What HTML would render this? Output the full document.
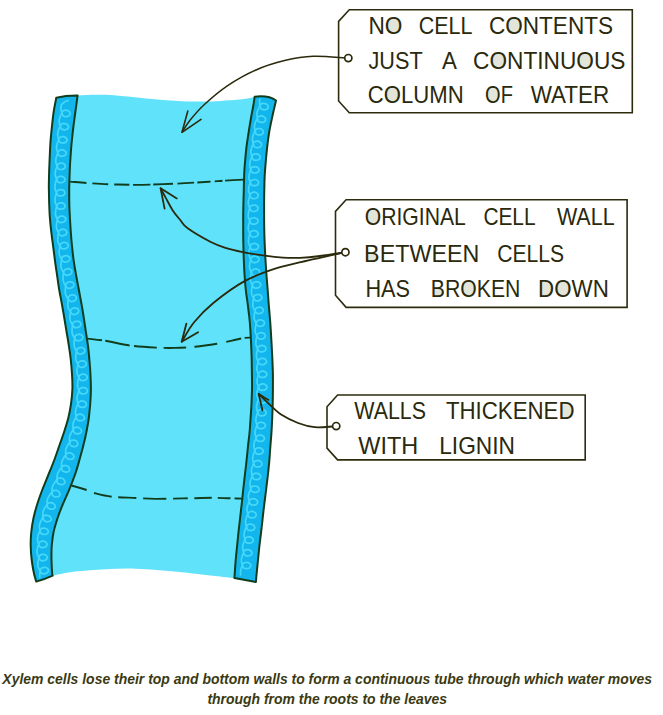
<!DOCTYPE html>
<html><head><meta charset="utf-8"><title>Xylem vessel</title>
<style>
html,body{margin:0;padding:0;background:#fff;}
body{width:663px;height:715px;overflow:hidden;position:relative;font-family:"Liberation Sans",sans-serif;}
svg{position:absolute;left:0;top:0;}
svg text{font-family:"Liberation Sans",sans-serif;font-size:23.6px;fill:#2a290c;}
.cap{position:absolute;left:-20px;top:668.5px;width:694.4px;text-align:center;font-style:italic;font-weight:bold;font-size:13.96px;line-height:20px;color:#3a3a12;white-space:nowrap;}
</style></head><body>
<svg width="663" height="715" viewBox="0 0 663 715">
<path d="M77.6 95.6 C80.5 95.1 89.6 94.8 95.0 94.7 C100.4 94.7 104.5 94.6 110.0 94.9 C115.5 95.2 122.0 95.9 128.0 96.5 C134.0 97.1 140.2 98.0 146.0 98.6 C151.8 99.2 157.6 99.6 163.0 100.0 C168.4 100.4 173.3 100.7 178.6 100.9 C183.9 101.2 189.6 101.4 195.0 101.5 C200.4 101.6 205.2 101.7 211.0 101.5 C216.8 101.3 223.9 100.8 230.0 100.3 C236.1 99.8 243.3 99.0 247.4 98.4 C251.5 97.8 253.5 97.0 254.7 96.7 C254.5 97.9 254.2 100.5 253.6 104.0 C253.0 107.5 251.8 113.3 251.0 118.0 C250.2 122.7 249.4 127.3 248.7 132.0 C248.0 136.7 247.2 141.3 246.6 146.0 C246.0 150.7 245.6 155.3 245.2 160.0 C244.8 164.7 244.4 169.2 244.2 174.0 C244.0 178.8 243.9 184.0 243.8 189.0 C243.7 194.0 243.5 199.2 243.4 204.0 C243.3 208.8 243.2 213.3 243.2 218.0 C243.2 222.7 243.2 227.3 243.2 232.0 C243.2 236.7 243.3 241.3 243.4 246.0 C243.5 250.7 243.6 255.3 243.8 260.0 C244.0 264.7 244.2 269.2 244.5 274.0 C244.8 278.8 245.2 284.0 245.7 289.0 C246.2 294.0 247.1 299.2 247.7 304.0 C248.3 308.8 248.9 313.3 249.4 318.0 C249.9 322.7 250.2 327.3 250.5 332.0 C250.8 336.7 251.0 341.3 251.2 346.0 C251.4 350.7 251.6 355.3 251.7 360.0 C251.8 364.7 251.8 369.2 251.9 374.0 C252.0 378.8 252.1 384.0 252.0 389.0 C251.9 394.0 251.7 399.2 251.5 404.0 C251.3 408.8 250.9 413.3 250.6 418.0 C250.3 422.7 250.0 427.3 249.6 432.0 C249.2 436.7 248.5 441.3 248.0 446.0 C247.5 450.7 247.1 455.3 246.6 460.0 C246.1 464.7 245.6 469.2 245.0 474.0 C244.4 478.8 243.9 484.0 243.3 489.0 C242.8 494.0 242.2 499.2 241.7 504.0 C241.2 508.8 240.6 513.3 240.1 518.0 C239.6 522.7 239.0 527.3 238.5 532.0 C238.0 536.7 237.6 541.3 237.1 546.0 C236.6 550.7 236.1 555.3 235.7 560.0 C235.3 564.7 234.9 571.0 234.7 574.0 C234.5 577.0 234.4 577.4 234.4 578.1 C231.2 577.8 221.4 576.7 215.0 576.0 C208.6 575.3 204.0 574.6 195.8 573.7 C187.6 572.8 175.8 571.5 165.7 570.7 C155.6 569.9 145.6 569.0 135.5 568.7 C125.4 568.5 115.3 568.7 105.3 569.2 C95.2 569.7 84.0 570.5 75.2 571.6 C66.4 572.7 56.5 574.9 52.7 575.6 C52.6 575.3 52.4 576.6 52.2 574.0 C52.0 571.4 51.6 564.7 51.5 560.0 C51.4 555.3 51.4 550.7 51.7 546.0 C52.1 541.3 52.6 536.7 53.6 532.0 C54.6 527.3 56.1 522.7 57.6 518.0 C59.1 513.3 60.9 508.8 62.9 504.0 C64.9 499.2 67.5 494.0 69.5 489.0 C71.5 484.0 73.5 478.8 75.2 474.0 C76.9 469.2 78.1 464.7 79.4 460.0 C80.7 455.3 82.0 450.7 83.2 446.0 C84.4 441.3 85.5 436.7 86.4 432.0 C87.3 427.3 88.2 422.7 88.8 418.0 C89.4 413.3 89.8 408.8 90.2 404.0 C90.6 399.2 90.9 394.0 90.9 389.0 C90.9 384.0 90.7 378.8 90.4 374.0 C90.2 369.2 89.8 364.7 89.4 360.0 C89.0 355.3 88.6 350.7 88.0 346.0 C87.4 341.3 86.6 336.7 85.9 332.0 C85.2 327.3 84.5 322.7 83.8 318.0 C83.1 313.3 82.4 309.0 81.5 304.0 C80.6 299.0 79.4 293.0 78.5 288.0 C77.6 283.0 76.7 278.7 75.9 274.0 C75.1 269.3 74.2 264.7 73.6 260.0 C72.9 255.3 72.5 250.7 72.0 246.0 C71.5 241.3 71.1 236.7 70.8 232.0 C70.5 227.3 70.2 222.7 69.9 218.0 C69.7 213.3 69.4 208.7 69.3 204.0 C69.2 199.3 69.2 193.8 69.2 190.0 C69.2 186.2 69.3 184.8 69.4 181.0 C69.5 177.2 69.7 171.7 69.9 167.0 C70.1 162.3 70.5 157.7 70.8 153.0 C71.1 148.3 71.5 143.7 72.0 139.0 C72.5 134.3 73.0 129.7 73.6 125.0 C74.2 120.3 74.8 115.9 75.5 111.0 C76.2 106.1 77.2 98.2 77.6 95.6Z" fill="#60e2fb"/>
<g fill="none" stroke="#123d1c" stroke-width="1.9" stroke-linecap="butt">
<path d="M70.2 181.6 C73.0 181.8 80.7 182.6 87.0 183.0 C93.3 183.4 100.8 183.9 108.0 184.2 C115.2 184.5 123.0 184.7 130.0 184.8 C137.0 184.9 142.8 184.8 150.0 184.6 C157.2 184.4 165.5 184.1 173.0 183.8 C180.5 183.5 188.7 183.0 195.0 182.6 C201.3 182.2 206.0 181.9 211.0 181.6 C216.0 181.3 219.6 180.9 225.0 180.6 C230.4 180.3 240.5 179.8 243.6 179.6" stroke-dasharray="16.3 6.1 15.7 6 15.1 3.6 17.5 3 19.6 4.5 16.6 3.1 13.5 4 8.1 2.4 30"/><path d="M87.6 338.6 C90.5 339.0 97.9 339.6 105.0 340.7 C112.1 341.8 121.5 344.4 130.0 345.5 C138.5 346.6 148.5 347.2 156.0 347.6 C163.5 348.0 168.5 348.0 175.0 347.9 C181.5 347.8 188.0 347.4 195.0 346.7 C202.0 346.0 210.8 344.7 217.0 343.7 C223.2 342.7 227.5 341.6 232.0 340.6 C236.5 339.7 240.9 338.5 244.0 338.0 C247.1 337.5 249.5 337.7 250.6 337.6" stroke-dasharray="14.6 3.2 24.8 4.5 22.7 6.7 22.9 8.2 22.9 9.2 15.2 3.6 20"/><path d="M71.4 485.5 C74.0 486.2 82.9 488.8 86.7 490.0 C90.5 491.2 90.0 491.9 94.2 493.0 C98.4 494.1 104.7 495.9 111.7 496.7 C118.7 497.5 129.2 497.6 136.4 498.0 C143.6 498.4 148.9 498.8 155.0 498.9 C161.1 499.0 166.5 498.7 173.0 498.6 C179.5 498.5 187.5 498.3 194.0 498.2 C200.5 498.1 206.0 497.8 212.0 497.8 C218.0 497.8 224.9 498.2 230.0 498.3 C235.1 498.4 240.7 498.6 242.8 498.6" stroke-dasharray="15.9 8 18 6.6 18.1 6.6 23.6 6.6 14.5 6.7 17.5 6 12.7 3.9 20"/>
</g>
<g fill="#12b5ec" stroke="#123d1c" stroke-width="2" stroke-linejoin="round">
<path d="M56.3 97.7 C55.9 99.9 54.5 106.5 53.8 111.0 C53.1 115.5 52.6 120.3 52.1 125.0 C51.6 129.7 51.1 134.3 50.7 139.0 C50.3 143.7 50.1 148.3 49.9 153.0 C49.7 157.7 49.5 162.3 49.3 167.0 C49.1 171.7 49.0 177.2 48.9 181.0 C48.8 184.8 48.8 186.2 48.9 190.0 C49.0 193.8 49.0 199.3 49.2 204.0 C49.4 208.7 49.5 213.3 49.9 218.0 C50.2 222.7 50.8 227.3 51.3 232.0 C51.8 236.7 52.5 241.3 53.1 246.0 C53.7 250.7 54.3 255.3 54.9 260.0 C55.5 264.7 56.2 269.3 56.9 274.0 C57.6 278.7 58.1 283.0 58.9 288.0 C59.7 293.0 61.0 299.0 61.9 304.0 C62.8 309.0 63.5 313.3 64.3 318.0 C65.1 322.7 65.8 327.3 66.6 332.0 C67.4 336.7 68.2 341.3 68.9 346.0 C69.6 350.7 70.3 355.3 70.8 360.0 C71.3 364.7 71.7 369.2 72.0 374.0 C72.3 378.8 72.6 384.0 72.4 389.0 C72.2 394.0 71.7 399.2 71.0 404.0 C70.3 408.8 69.5 413.3 68.3 418.0 C67.1 422.7 65.6 427.3 64.1 432.0 C62.6 436.7 60.8 441.3 59.2 446.0 C57.6 450.7 56.0 455.3 54.3 460.0 C52.5 464.7 50.7 469.2 48.7 474.0 C46.8 478.8 44.5 484.0 42.6 489.0 C40.7 494.0 38.8 499.2 37.3 504.0 C35.8 508.8 34.5 513.3 33.5 518.0 C32.5 522.7 31.8 527.3 31.3 532.0 C30.8 536.7 30.6 541.3 30.7 546.0 C30.8 550.7 31.1 555.3 31.7 560.0 C32.3 564.7 33.3 570.4 34.1 574.0 C34.9 577.6 35.9 580.3 36.3 581.6 Q45.0 579.1 52.7 575.6 C52.6 575.3 52.4 576.6 52.2 574.0 C52.0 571.4 51.6 564.7 51.5 560.0 C51.4 555.3 51.4 550.7 51.7 546.0 C52.1 541.3 52.6 536.7 53.6 532.0 C54.6 527.3 56.1 522.7 57.6 518.0 C59.1 513.3 60.9 508.8 62.9 504.0 C64.9 499.2 67.5 494.0 69.5 489.0 C71.5 484.0 73.5 478.8 75.2 474.0 C76.9 469.2 78.1 464.7 79.4 460.0 C80.7 455.3 82.0 450.7 83.2 446.0 C84.4 441.3 85.5 436.7 86.4 432.0 C87.3 427.3 88.2 422.7 88.8 418.0 C89.4 413.3 89.8 408.8 90.2 404.0 C90.6 399.2 90.9 394.0 90.9 389.0 C90.9 384.0 90.7 378.8 90.4 374.0 C90.2 369.2 89.8 364.7 89.4 360.0 C89.0 355.3 88.6 350.7 88.0 346.0 C87.4 341.3 86.6 336.7 85.9 332.0 C85.2 327.3 84.5 322.7 83.8 318.0 C83.1 313.3 82.4 309.0 81.5 304.0 C80.6 299.0 79.4 293.0 78.5 288.0 C77.6 283.0 76.7 278.7 75.9 274.0 C75.1 269.3 74.2 264.7 73.6 260.0 C72.9 255.3 72.5 250.7 72.0 246.0 C71.5 241.3 71.1 236.7 70.8 232.0 C70.5 227.3 70.2 222.7 69.9 218.0 C69.7 213.3 69.4 208.7 69.3 204.0 C69.2 199.3 69.2 193.8 69.2 190.0 C69.2 186.2 69.3 184.8 69.4 181.0 C69.5 177.2 69.7 171.7 69.9 167.0 C70.1 162.3 70.5 157.7 70.8 153.0 C71.1 148.3 71.5 143.7 72.0 139.0 C72.5 134.3 73.0 129.7 73.6 125.0 C74.2 120.3 74.8 115.9 75.5 111.0 C76.2 106.1 77.2 98.2 77.6 95.6 Q65.9 95.5 56.3 97.7Z"/><path d="M276.0 100.5 C275.9 101.1 275.9 101.1 275.2 104.0 C274.5 106.9 273.0 113.3 272.0 118.0 C271.0 122.7 270.0 127.3 269.2 132.0 C268.4 136.7 267.9 141.3 267.3 146.0 C266.8 150.7 266.3 155.3 265.9 160.0 C265.5 164.7 265.1 169.2 264.8 174.0 C264.5 178.8 264.4 184.0 264.3 189.0 C264.2 194.0 264.1 199.2 264.1 204.0 C264.1 208.8 264.1 213.3 264.1 218.0 C264.1 222.7 264.2 227.3 264.3 232.0 C264.4 236.7 264.6 241.3 264.8 246.0 C265.0 250.7 265.2 255.3 265.5 260.0 C265.8 264.7 266.0 269.2 266.4 274.0 C266.8 278.8 267.2 284.0 267.6 289.0 C268.0 294.0 268.3 299.2 268.7 304.0 C269.1 308.8 269.5 313.3 269.9 318.0 C270.3 322.7 270.6 327.3 270.9 332.0 C271.2 336.7 271.4 341.3 271.7 346.0 C271.9 350.7 272.2 355.3 272.4 360.0 C272.6 364.7 272.8 369.2 272.9 374.0 C273.0 378.8 272.9 384.0 272.9 389.0 C272.9 394.0 272.8 399.2 272.7 404.0 C272.6 408.8 272.4 413.3 272.2 418.0 C272.0 422.7 271.8 427.3 271.5 432.0 C271.2 436.7 270.8 441.3 270.4 446.0 C270.0 450.7 269.8 455.3 269.4 460.0 C269.0 464.7 268.5 469.2 268.0 474.0 C267.5 478.8 266.8 484.0 266.2 489.0 C265.6 494.0 264.9 499.2 264.3 504.0 C263.7 508.8 263.2 513.3 262.7 518.0 C262.2 522.7 261.7 527.3 261.1 532.0 C260.6 536.7 259.9 541.3 259.4 546.0 C258.9 550.7 258.5 555.3 258.0 560.0 C257.5 564.7 257.0 570.3 256.6 574.0 C256.2 577.7 256.0 580.7 255.9 582.0 Q245.2 580.0 234.4 578.1 C234.4 577.4 234.5 577.0 234.7 574.0 C234.9 571.0 235.3 564.7 235.7 560.0 C236.1 555.3 236.6 550.7 237.1 546.0 C237.6 541.3 238.0 536.7 238.5 532.0 C239.0 527.3 239.6 522.7 240.1 518.0 C240.6 513.3 241.2 508.8 241.7 504.0 C242.2 499.2 242.8 494.0 243.3 489.0 C243.9 484.0 244.4 478.8 245.0 474.0 C245.6 469.2 246.1 464.7 246.6 460.0 C247.1 455.3 247.5 450.7 248.0 446.0 C248.5 441.3 249.2 436.7 249.6 432.0 C250.0 427.3 250.3 422.7 250.6 418.0 C250.9 413.3 251.3 408.8 251.5 404.0 C251.7 399.2 251.9 394.0 252.0 389.0 C252.1 384.0 252.0 378.8 251.9 374.0 C251.8 369.2 251.8 364.7 251.7 360.0 C251.6 355.3 251.4 350.7 251.2 346.0 C251.0 341.3 250.8 336.7 250.5 332.0 C250.2 327.3 249.9 322.7 249.4 318.0 C248.9 313.3 248.3 308.8 247.7 304.0 C247.1 299.2 246.2 294.0 245.7 289.0 C245.2 284.0 244.8 278.8 244.5 274.0 C244.2 269.2 244.0 264.7 243.8 260.0 C243.6 255.3 243.5 250.7 243.4 246.0 C243.3 241.3 243.2 236.7 243.2 232.0 C243.2 227.3 243.2 222.7 243.2 218.0 C243.2 213.3 243.3 208.8 243.4 204.0 C243.5 199.2 243.7 194.0 243.8 189.0 C243.9 184.0 244.0 178.8 244.2 174.0 C244.4 169.2 244.8 164.7 245.2 160.0 C245.6 155.3 246.0 150.7 246.6 146.0 C247.2 141.3 248.0 136.7 248.7 132.0 C249.4 127.3 250.2 122.7 251.0 118.0 C251.8 113.3 253.0 107.5 253.6 104.0 C254.2 100.5 254.5 97.9 254.7 96.7 C262 95.9 270.5 96.4 276.0 100.5Z"/>
</g>
<g fill="none" stroke="#45d8f9" stroke-width="1.7" stroke-linecap="round" stroke-linejoin="round">
<path d="M68.2 100.4 L67.8 100.6 L67.3 100.8 L66.7 100.9 L66.1 101.1 L65.5 101.5 L64.9 101.9 L64.3 102.3 L63.7 102.7 L63.0 103.4 L62.4 103.8 L61.9 104.4 L61.5 104.9 L61.2 105.6 L61.1 106.1 L60.9 106.8 L60.9 107.4 L60.9 108.1 L61.0 108.9 L61.1 109.9 L61.4 111.0 L61.6 112.3 L62.0 113.4 L62.3 114.4 L62.7 115.2 L63.1 115.8 L63.5 116.1 L64.0 116.4 L64.5 116.5 L65.0 116.6 L65.5 116.6 L66.0 116.7 L66.6 116.5 L67.1 116.6 L67.6 116.4 L68.1 116.2 L68.6 116.0 L68.9 115.8 L69.3 115.6 L69.6 115.2 L69.8 114.7 L70.0 114.5 L70.1 114.0 L70.1 113.7 L70.0 113.2 L69.9 112.7 L69.7 112.4 L69.5 111.9 L69.2 111.6 L68.8 111.3 L68.4 111.0 L67.9 110.7 L67.4 110.6 L66.9 110.3 L66.4 110.2 L65.9 110.1 L65.3 110.3 L64.8 110.2 L64.2 110.4 L63.7 110.6 L63.3 110.8 L63.0 111.0 L62.7 111.2 L62.5 111.4 L62.3 111.9 L62.0 112.4 L61.8 112.8 L61.4 113.6 L61.0 114.5 L60.6 115.5 L60.2 116.4 L59.9 117.4 L59.6 118.4 L59.5 118.9 L59.3 119.6 L59.2 120.1 L59.1 120.9 L59.2 121.4 L59.3 122.2 L59.4 123.2 L59.6 124.5 L60.0 125.5 L60.3 126.8 L60.7 127.6 L61.1 128.4 L61.5 129.0 L61.9 129.3 L62.4 129.6 L62.9 129.6 L63.4 129.7 L63.9 129.8 L64.4 129.8 L65.0 129.9 L65.5 129.7 L66.1 129.5 L66.6 129.3 L67.0 129.1 L67.3 128.9 L67.7 128.7 L68.0 128.2 L68.2 128.0 L68.4 127.5 L68.5 127.0 L68.4 126.8 L68.4 126.3 L68.2 125.7 L68.0 125.5 L67.8 125.2 L67.5 124.6 L67.1 124.4 L66.7 124.0 L66.2 124.0 L65.7 123.7 L65.1 123.6 L64.6 123.6 L64.1 123.5 L63.6 123.4 L63.0 123.6 L62.5 123.6 L62.0 123.7 L61.6 123.9 L61.3 124.2 L61.0 124.4 L60.8 124.9 L60.6 125.1 L60.4 125.6 L60.1 126.0 L59.8 126.8 L59.4 127.7 L59.0 128.7 L58.6 129.7 L58.3 130.6 L58.1 131.6 L57.9 132.4 L57.8 132.9 L57.7 133.6 L57.6 134.1 L57.7 134.9 L57.7 135.6 L57.9 136.4 L58.2 137.7 L58.5 138.8 L58.9 140.1 L59.3 141.1 L59.7 141.9 L60.2 142.2 L60.6 142.7 L61.1 142.8 L61.6 142.8 L62.1 142.8 L62.6 142.9 L63.1 142.9 L63.7 143.0 L64.2 142.8 L64.8 142.8 L65.2 142.6 L65.7 142.4 L66.0 141.9 L66.3 141.7 L66.6 141.2 L66.8 141.0 L67.0 140.5 L67.1 140.3 L67.1 139.8 L67.0 139.3 L66.8 139.0 L66.6 138.5 L66.3 138.2 L66.0 138.0 L65.7 137.4 L65.2 137.4 L64.7 137.1 L64.2 136.8 L63.7 136.7 L63.2 136.7 L62.7 136.6 L62.1 136.6 L61.6 136.8 L61.0 137.0 L60.6 136.9 L60.1 137.4 L59.8 137.6 L59.5 137.8 L59.3 138.1 L59.2 138.3 L59.0 138.8 L58.7 139.5 L58.4 140.3 L58.1 141.0 L57.7 142.0 L57.4 143.0 L57.1 144.0 L56.9 145.0 L56.7 145.7 L56.6 146.2 L56.5 147.0 L56.5 147.5 L56.6 148.2 L56.7 149.0 L56.9 150.0 L57.2 151.0 L57.6 152.3 L58.0 153.3 L58.4 154.4 L58.8 155.1 L59.3 155.7 L59.8 156.0 L60.3 156.0 L60.7 156.3 L61.3 156.3 L61.8 156.3 L62.3 156.1 L62.8 156.1 L63.4 155.9 L63.9 155.9 L64.4 155.7 L64.8 155.5 L65.1 155.3 L65.4 154.8 L65.7 154.6 L65.9 154.1 L66.1 153.6 L66.1 153.3 L66.1 152.8 L66.0 152.6 L65.9 152.1 L65.7 151.6 L65.4 151.3 L65.1 151.0 L64.7 150.8 L64.2 150.5 L63.7 150.2 L63.2 149.9 L62.7 149.9 L62.2 149.8 L61.6 149.8 L61.1 149.8 L60.5 150.0 L60.0 150.2 L59.5 150.4 L59.1 150.7 L58.8 150.9 L58.6 151.1 L58.4 151.4 L58.2 151.8 L58.0 152.1 L57.8 152.8 L57.5 153.6 L57.2 154.3 L56.8 155.3 L56.5 156.5 L56.2 157.5 L56.0 158.3 L55.9 159.0 L55.8 159.7 L55.7 160.2 L55.7 160.8 L55.8 161.5 L55.9 162.3 L56.1 163.3 L56.5 164.3 L56.8 165.6 L57.3 166.6 L57.7 167.6 L58.2 168.4 L58.6 168.9 L59.1 169.2 L59.6 169.5 L60.1 169.5 L60.6 169.5 L61.1 169.5 L61.6 169.5 L62.2 169.3 L62.7 169.3 L63.2 169.1 L63.7 168.9 L64.1 168.6 L64.4 168.4 L64.8 167.9 L65.0 167.7 L65.2 167.2 L65.4 167.0 L65.4 166.5 L65.4 166.0 L65.3 165.7 L65.1 165.2 L64.9 165.0 L64.6 164.4 L64.3 164.2 L63.9 163.9 L63.5 163.6 L63.0 163.4 L62.4 163.3 L61.9 163.1 L61.4 163.0 L60.9 163.0 L60.3 163.2 L59.8 163.2 L59.3 163.4 L58.8 163.7 L58.4 163.9 L58.1 164.1 L57.8 164.4 L57.6 164.6 L57.4 165.1 L57.3 165.6 L57.0 166.1 L56.8 166.8 L56.5 167.8 L56.1 168.8 L55.8 169.8 L55.6 170.8 L55.4 171.6 L55.3 172.3 L55.2 173.1 L55.2 173.6 L55.2 174.3 L55.2 174.8 L55.4 175.6 L55.6 176.6 L56.0 177.6 L56.4 178.9 L56.8 179.9 L57.3 180.9 L57.8 181.7 L58.2 182.2 L58.7 182.4 L59.2 182.7 L59.7 182.7 L60.2 182.7 L60.7 182.7 L61.2 182.8 L61.8 182.5 L62.3 182.5 L62.8 182.3 L63.3 182.1 L63.7 181.8 L64.0 181.6 L64.3 181.3 L64.6 180.8 L64.8 180.3 L64.9 180.1 L65.0 179.6 L65.0 179.4 L64.8 178.9 L64.7 178.4 L64.4 178.1 L64.1 177.6 L63.8 177.3 L63.4 177.1 L63.0 176.8 L62.5 176.6 L61.9 176.5 L61.4 176.3 L60.9 176.3 L60.4 176.2 L59.8 176.5 L59.3 176.5 L58.8 176.7 L58.3 176.9 L57.9 177.2 L57.6 177.4 L57.3 177.7 L57.1 177.9 L57.0 178.4 L56.8 178.9 L56.6 179.4 L56.3 180.1 L56.0 181.1 L55.7 182.1 L55.5 183.1 L55.2 184.1 L55.1 185.2 L55.0 185.7 L54.9 186.4 L54.9 186.9 L54.9 187.7 L55.0 188.2 L55.1 189.0 L55.4 190.0 L55.8 191.2 L56.2 192.2 L56.7 193.5 L57.2 194.2 L57.7 195.0 L58.2 195.5 L58.7 195.7 L59.2 196.0 L59.7 195.9 L60.2 195.9 L60.7 195.9 L61.2 195.9 L61.7 195.9 L62.3 195.7 L62.8 195.4 L63.3 195.2 L63.7 194.9 L64.0 194.7 L64.3 194.4 L64.5 193.9 L64.7 193.7 L64.8 193.2 L64.9 192.7 L64.8 192.4 L64.7 191.9 L64.5 191.4 L64.3 191.2 L64.0 190.9 L63.6 190.4 L63.2 190.2 L62.8 189.9 L62.2 189.9 L61.7 189.7 L61.2 189.7 L60.6 189.7 L60.1 189.7 L59.6 189.7 L59.1 190.0 L58.5 190.0 L58.1 190.2 L57.7 190.5 L57.4 190.7 L57.2 191.0 L57.0 191.5 L56.8 191.7 L56.7 192.2 L56.5 192.7 L56.2 193.5 L56.0 194.5 L55.7 195.5 L55.5 196.5 L55.3 197.5 L55.1 198.5 L55.0 199.3 L55.0 199.8 L55.0 200.5 L55.0 201.0 L55.1 201.8 L55.3 202.6 L55.6 203.3 L56.0 204.6 L56.5 205.5 L57.0 206.8 L57.5 207.8 L58.0 208.5 L58.5 208.7 L59.0 209.2 L59.5 209.2 L60.0 209.2 L60.5 209.2 L61.0 209.1 L61.6 209.1 L62.1 209.1 L62.6 208.8 L63.1 208.8 L63.6 208.5 L64.0 208.3 L64.3 207.8 L64.6 207.5 L64.8 207.0 L65.0 206.7 L65.1 206.2 L65.1 206.0 L65.1 205.5 L64.9 205.0 L64.7 204.8 L64.5 204.3 L64.2 204.1 L63.8 203.8 L63.4 203.3 L62.9 203.3 L62.4 203.1 L61.9 202.9 L61.3 202.9 L60.8 202.9 L60.3 202.9 L59.8 202.9 L59.2 203.2 L58.7 203.5 L58.3 203.5 L57.9 204.0 L57.6 204.3 L57.4 204.5 L57.2 204.8 L57.0 205.0 L56.9 205.5 L56.7 206.3 L56.5 207.1 L56.3 207.8 L56.0 208.8 L55.8 209.9 L55.7 210.9 L55.6 211.9 L55.5 212.6 L55.4 213.2 L55.5 213.9 L55.5 214.4 L55.6 215.2 L55.9 215.9 L56.2 216.9 L56.6 217.9 L57.2 219.1 L57.7 220.1 L58.3 221.1 L58.8 221.8 L59.3 222.2 L59.8 222.5 L60.3 222.4 L60.8 222.6 L61.3 222.6 L61.8 222.6 L62.3 222.3 L62.9 222.2 L63.4 221.9 L63.9 221.9 L64.3 221.6 L64.7 221.3 L65.0 221.1 L65.3 220.6 L65.5 220.3 L65.7 219.8 L65.8 219.3 L65.8 219.0 L65.7 218.5 L65.6 218.3 L65.3 217.8 L65.1 217.4 L64.8 217.1 L64.4 216.9 L64.0 216.7 L63.5 216.5 L63.0 216.2 L62.4 216.0 L61.9 216.1 L61.4 216.1 L60.9 216.1 L60.3 216.2 L59.8 216.4 L59.3 216.7 L58.9 217.0 L58.5 217.3 L58.2 217.5 L58.0 217.8 L57.8 218.1 L57.7 218.6 L57.5 218.8 L57.4 219.6 L57.2 220.4 L57.0 221.2 L56.8 222.2 L56.6 223.5 L56.5 224.5 L56.4 225.3 L56.4 226.0 L56.4 226.8 L56.4 227.3 L56.5 227.8 L56.6 228.5 L56.9 229.3 L57.2 230.2 L57.7 231.2 L58.3 232.4 L58.8 233.4 L59.4 234.3 L60.0 235.0 L60.5 235.5 L61.0 235.7 L61.5 235.9 L62.0 235.8 L62.5 235.8 L63.0 235.7 L63.5 235.7 L64.0 235.4 L64.6 235.3 L65.1 235.0 L65.5 234.7 L65.9 234.4 L66.2 234.1 L66.4 233.6 L66.7 233.3 L66.8 232.8 L66.9 232.6 L66.9 232.1 L66.8 231.6 L66.7 231.4 L66.4 230.9 L66.1 230.7 L65.8 230.2 L65.5 230.0 L65.0 229.8 L64.5 229.6 L64.0 229.4 L63.5 229.4 L62.9 229.2 L62.4 229.3 L61.9 229.3 L61.4 229.6 L60.8 229.6 L60.3 229.9 L59.9 230.2 L59.5 230.5 L59.3 230.8 L59.1 231.1 L58.9 231.3 L58.8 231.9 L58.7 232.4 L58.5 232.9 L58.4 233.7 L58.2 234.7 L58.0 235.7 L57.9 236.7 L57.8 237.8 L57.7 238.5 L57.7 239.3 L57.7 240.1 L57.7 240.6 L57.8 241.3 L58.0 241.8 L58.2 242.5 L58.6 243.5 L59.1 244.4 L59.7 245.6 L60.3 246.6 L60.9 247.5 L61.4 248.2 L61.9 248.6 L62.5 248.8 L63.0 249.0 L63.5 249.0 L64.0 248.9 L64.5 248.9 L65.0 248.8 L65.5 248.5 L66.0 248.4 L66.5 248.1 L67.0 247.8 L67.3 247.5 L67.6 247.2 L67.9 247.0 L68.1 246.4 L68.2 245.9 L68.3 245.7 L68.3 245.2 L68.2 244.9 L68.0 244.4 L67.8 244.0 L67.5 243.7 L67.2 243.3 L66.8 243.1 L66.4 242.9 L65.9 242.7 L65.4 242.5 L64.8 242.5 L64.3 242.3 L63.8 242.4 L63.2 242.5 L62.7 242.8 L62.2 242.8 L61.7 243.1 L61.3 243.4 L60.9 243.7 L60.6 244.0 L60.4 244.3 L60.3 244.6 L60.2 245.1 L60.1 245.6 L59.9 246.1 L59.8 246.9 L59.6 247.9 L59.5 248.9 L59.3 250.0 L59.2 251.0 L59.2 252.0 L59.2 252.5 L59.2 253.3 L59.2 253.8 L59.3 254.5 L59.5 255.0 L59.8 255.7 L60.2 256.7 L60.7 257.9 L61.3 258.8 L61.9 260.0 L62.5 260.7 L63.1 261.4 L63.6 261.8 L64.1 262.0 L64.6 262.2 L65.1 262.1 L65.6 262.0 L66.1 262.0 L66.7 261.9 L67.2 261.8 L67.7 261.5 L68.2 261.2 L68.6 260.9 L68.9 260.6 L69.2 260.3 L69.5 260.0 L69.7 259.5 L69.8 259.2 L69.9 258.7 L69.9 258.2 L69.8 258.0 L69.6 257.5 L69.3 257.0 L69.1 256.8 L68.7 256.6 L68.4 256.2 L67.9 256.0 L67.4 255.8 L66.9 255.8 L66.4 255.7 L65.8 255.7 L65.3 255.8 L64.8 255.9 L64.3 255.9 L63.8 256.2 L63.3 256.3 L62.8 256.6 L62.5 256.9 L62.2 257.2 L62.0 257.5 L61.9 258.0 L61.8 258.3 L61.7 258.8 L61.5 259.3 L61.4 260.1 L61.3 261.1 L61.1 262.2 L61.0 263.2 L61.0 264.2 L61.0 265.3 L61.0 266.0 L61.0 266.5 L61.1 267.3 L61.2 267.8 L61.4 268.5 L61.7 269.2 L62.1 269.9 L62.6 271.1 L63.2 272.0 L63.9 273.2 L64.5 274.1 L65.1 274.8 L65.6 274.9 L66.2 275.3 L66.7 275.3 L67.2 275.2 L67.7 275.1 L68.2 275.0 L68.7 274.9 L69.2 274.9 L69.7 274.5 L70.2 274.4 L70.6 274.1 L71.0 273.8 L71.2 273.3 L71.5 273.0 L71.7 272.4 L71.8 272.2 L71.9 271.7 L71.9 271.4 L71.7 270.9 L71.5 270.4 L71.3 270.2 L71.0 269.8 L70.7 269.6 L70.3 269.4 L69.8 268.9 L69.4 269.0 L68.8 268.8 L68.2 268.7 L67.7 268.8 L67.2 268.9 L66.7 268.9 L66.2 269.0 L65.7 269.4 L65.2 269.7 L64.7 269.8 L64.4 270.3 L64.2 270.6 L64.0 270.9 L63.8 271.2 L63.7 271.4 L63.6 272.0 L63.6 272.7 L63.4 273.5 L63.3 274.3 L63.2 275.3 L63.1 276.3 L63.0 277.4 L63.0 278.4 L63.1 279.1 L63.1 279.6 L63.2 280.4 L63.3 280.9 L63.5 281.6 L63.8 282.3 L64.2 283.3 L64.7 284.2 L65.4 285.4 L66.0 286.3 L66.7 287.2 L67.3 287.8 L67.8 288.3 L68.4 288.4 L68.8 288.3 L69.4 288.5 L69.9 288.4 L70.4 288.3 L70.8 288.0 L71.4 287.9 L71.9 287.5 L72.4 287.5 L72.8 287.1 L73.1 286.8 L73.4 286.5 L73.6 286.0 L73.8 285.7 L73.9 285.2 L74.0 284.7 L74.0 284.4 L73.8 283.9 L73.7 283.7 L73.4 283.3 L73.1 282.8 L72.8 282.6 L72.4 282.4 L72.0 282.2 L71.5 282.1 L70.9 281.9 L70.3 281.8 L69.8 281.8 L69.3 281.9 L68.8 282.0 L68.2 282.1 L67.8 282.4 L67.3 282.8 L66.9 283.1 L66.5 283.4 L66.3 283.7 L66.1 284.0 L65.9 284.3 L65.9 284.8 L65.8 285.1 L65.7 285.8 L65.6 286.6 L65.4 287.4 L65.3 288.4 L65.3 289.7 L65.3 290.8 L65.3 291.5 L65.3 292.3 L65.4 293.1 L65.5 293.6 L65.6 294.0 L65.8 294.8 L66.1 295.5 L66.6 296.4 L67.1 297.3 L67.8 298.5 L68.5 299.3 L69.1 300.2 L69.7 300.9 L70.3 301.3 L70.8 301.4 L71.4 301.6 L71.8 301.5 L72.3 301.4 L72.8 301.3 L73.3 301.2 L73.8 300.9 L74.4 300.8 L74.8 300.4 L75.2 300.1 L75.6 299.8 L75.9 299.5 L76.1 298.9 L76.2 298.6 L76.3 298.1 L76.4 297.8 L76.4 297.3 L76.2 296.8 L76.1 296.6 L75.8 296.2 L75.5 296.0 L75.1 295.5 L74.7 295.3 L74.3 295.2 L73.8 295.0 L73.2 294.9 L72.7 295.0 L72.1 294.8 L71.6 294.9 L71.1 295.0 L70.6 295.4 L70.1 295.5 L69.6 295.8 L69.2 296.2 L68.9 296.5 L68.6 296.8 L68.5 297.1 L68.3 297.3 L68.3 297.9 L68.2 298.4 L68.1 298.9 L68.0 299.7 L67.9 300.7 L67.8 301.7 L67.8 302.8 L67.7 303.8 L67.7 304.5 L67.8 305.3 L67.8 306.0 L67.9 306.5 L68.0 307.2 L68.2 307.7 L68.5 308.4 L69.0 309.4 L69.5 310.3 L70.1 311.4 L70.8 312.3 L71.4 313.2 L72.0 313.9 L72.5 314.3 L73.1 314.5 L73.6 314.7 L74.1 314.6 L74.6 314.5 L75.1 314.4 L75.6 314.3 L76.1 314.0 L76.6 313.9 L77.1 313.6 L77.5 313.3 L77.9 312.9 L78.1 312.6 L78.4 312.4 L78.6 311.8 L78.7 311.3 L78.7 311.0 L78.7 310.5 L78.6 310.3 L78.4 309.8 L78.1 309.3 L77.9 309.1 L77.5 308.7 L77.1 308.5 L76.7 308.3 L76.2 308.1 L75.6 308.0 L75.1 308.1 L74.5 307.9 L74.0 308.0 L73.5 308.1 L73.0 308.4 L72.5 308.5 L72.0 308.8 L71.6 309.2 L71.3 309.5 L71.0 309.8 L70.8 310.1 L70.7 310.3 L70.6 310.8 L70.5 311.4 L70.4 311.9 L70.3 312.7 L70.2 313.7 L70.1 314.7 L70.0 315.8 L69.9 316.8 L70.0 317.8 L69.9 318.3 L70.0 319.0 L70.0 319.5 L70.2 320.3 L70.4 320.7 L70.7 321.5 L71.1 322.4 L71.6 323.6 L72.2 324.5 L72.9 325.6 L73.5 326.3 L74.1 327.0 L74.6 327.4 L75.1 327.6 L75.7 327.7 L76.2 327.7 L76.7 327.6 L77.2 327.5 L77.7 327.4 L78.2 327.4 L78.7 327.0 L79.2 326.7 L79.6 326.4 L80.0 326.1 L80.2 325.8 L80.5 325.5 L80.7 324.9 L80.8 324.7 L80.9 324.2 L80.8 323.7 L80.7 323.4 L80.5 322.9 L80.3 322.5 L80.0 322.3 L79.7 322.1 L79.3 321.6 L78.8 321.4 L78.3 321.3 L77.8 321.3 L77.2 321.2 L76.7 321.3 L76.2 321.3 L75.7 321.4 L75.2 321.5 L74.7 321.8 L74.2 321.9 L73.7 322.2 L73.4 322.5 L73.1 322.8 L72.9 323.1 L72.8 323.6 L72.7 323.9 L72.6 324.4 L72.5 324.9 L72.4 325.7 L72.3 326.8 L72.2 327.8 L72.1 328.8 L72.0 329.8 L72.0 330.8 L72.0 331.6 L72.0 332.1 L72.1 332.9 L72.2 333.4 L72.5 334.1 L72.7 334.8 L73.1 335.5 L73.7 336.7 L74.3 337.6 L75.0 338.7 L75.6 339.7 L76.2 340.3 L76.7 340.5 L77.3 340.9 L77.8 340.8 L78.3 340.7 L78.8 340.7 L79.3 340.6 L79.8 340.5 L80.3 340.4 L80.8 340.1 L81.3 340.0 L81.7 339.7 L82.1 339.4 L82.3 338.8 L82.6 338.5 L82.7 338.0 L82.9 337.7 L82.9 337.2 L82.9 336.9 L82.8 336.5 L82.6 336.0 L82.4 335.8 L82.1 335.3 L81.7 335.1 L81.3 334.9 L80.9 334.5 L80.4 334.6 L79.9 334.4 L79.3 334.2 L78.8 334.3 L78.3 334.4 L77.7 334.5 L77.2 334.6 L76.7 334.9 L76.3 335.2 L75.8 335.3 L75.5 335.9 L75.2 336.2 L75.0 336.5 L74.9 336.7 L74.8 337.0 L74.7 337.5 L74.6 338.3 L74.5 339.1 L74.4 339.9 L74.3 340.9 L74.2 341.9 L74.1 342.9 L74.1 343.9 L74.1 344.7 L74.1 345.1 L74.2 345.9 L74.3 346.4 L74.5 347.1 L74.8 347.8 L75.2 348.7 L75.7 349.7 L76.2 350.8 L76.8 351.8 L77.5 352.7 L78.0 353.4 L78.5 353.8 L79.0 354.0 L79.5 354.0 L80.1 354.2 L80.6 354.1 L81.1 354.0 L81.6 353.7 L82.1 353.7 L82.6 353.4 L83.1 353.3 L83.5 353.0 L83.9 352.7 L84.2 352.4 L84.4 351.9 L84.7 351.6 L84.8 351.1 L84.8 350.5 L84.9 350.3 L84.8 349.8 L84.6 349.5 L84.4 349.1 L84.0 348.6 L83.7 348.4 L83.4 348.2 L82.9 348.0 L82.4 347.8 L81.9 347.6 L81.3 347.4 L80.8 347.5 L80.3 347.6 L79.8 347.6 L79.2 347.7 L78.7 348.0 L78.2 348.3 L77.8 348.6 L77.5 348.9 L77.2 349.2 L77.0 349.5 L76.8 349.8 L76.8 350.3 L76.6 350.5 L76.5 351.3 L76.4 352.1 L76.2 352.9 L76.0 353.9 L75.9 355.1 L75.8 356.1 L75.8 356.9 L75.7 357.6 L75.7 358.4 L75.8 358.9 L75.8 359.4 L76.0 360.1 L76.3 360.8 L76.6 361.8 L77.1 362.7 L77.6 363.9 L78.2 364.9 L78.8 365.8 L79.3 366.5 L79.8 367.0 L80.3 367.2 L80.8 367.4 L81.4 367.4 L81.9 367.3 L82.4 367.3 L82.9 367.2 L83.4 366.9 L83.9 366.9 L84.4 366.6 L84.9 366.3 L85.2 366.0 L85.5 365.8 L85.8 365.2 L86.0 365.0 L86.2 364.4 L86.3 364.2 L86.3 363.7 L86.2 363.2 L86.0 362.9 L85.8 362.4 L85.5 362.2 L85.2 361.7 L84.8 361.5 L84.4 361.3 L83.9 361.1 L83.4 360.9 L82.9 360.9 L82.3 360.7 L81.8 360.8 L81.3 360.8 L80.8 361.1 L80.2 361.2 L79.7 361.5 L79.3 361.8 L78.9 362.1 L78.6 362.3 L78.4 362.6 L78.3 362.9 L78.2 363.4 L78.1 363.9 L77.9 364.4 L77.7 365.2 L77.5 366.2 L77.4 367.2 L77.2 368.2 L77.0 369.2 L76.9 369.9 L76.9 370.7 L76.9 371.4 L76.9 371.9 L76.9 372.6 L77.1 373.1 L77.3 373.9 L77.6 374.8 L78.0 375.8 L78.5 377.0 L79.1 378.0 L79.6 379.0 L80.1 379.7 L80.6 380.2 L81.1 380.4 L81.6 380.6 L82.1 380.6 L82.6 380.6 L83.1 380.6 L83.6 380.5 L84.2 380.3 L84.7 380.3 L85.2 380.0 L85.7 379.7 L86.1 379.4 L86.4 379.2 L86.7 378.9 L86.9 378.4 L87.0 377.9 L87.2 377.6 L87.2 377.1 L87.1 376.8 L87.0 376.3 L86.8 375.9 L86.5 375.6 L86.2 375.1 L85.8 374.9 L85.4 374.7 L84.9 374.4 L84.4 374.2 L83.9 374.3 L83.3 374.0 L82.8 374.1 L82.3 374.1 L81.8 374.4 L81.2 374.4 L80.7 374.7 L80.3 374.9 L79.9 375.2 L79.6 375.5 L79.4 375.7 L79.2 376.0 L79.1 376.5 L79.0 377.0 L78.8 377.5 L78.6 378.3 L78.4 379.3 L78.1 380.3 L77.9 381.3 L77.7 382.3 L77.6 383.2 L77.5 383.7 L77.5 384.5 L77.5 385.0 L77.5 385.7 L77.6 386.2 L77.8 386.9 L78.0 387.9 L78.4 389.1 L78.8 390.0 L79.2 391.3 L79.7 392.0 L80.1 392.8 L80.6 393.3 L81.1 393.6 L81.5 393.9 L82.1 393.9 L82.6 393.9 L83.1 394.0 L83.6 394.0 L84.1 394.0 L84.7 393.8 L85.2 393.6 L85.7 393.3 L86.1 393.1 L86.4 392.9 L86.7 392.6 L87.0 392.1 L87.2 391.9 L87.3 391.3 L87.4 390.8 L87.4 390.6 L87.3 390.0 L87.1 389.5 L86.8 389.2 L86.6 389.0 L86.2 388.4 L85.8 388.2 L85.4 387.9 L84.9 387.9 L84.3 387.7 L83.8 387.6 L83.3 387.6 L82.8 387.6 L82.2 387.6 L81.7 387.9 L81.2 387.9 L80.7 388.1 L80.3 388.4 L80.0 388.6 L79.8 388.8 L79.6 389.3 L79.4 389.6 L79.2 390.1 L79.0 390.5 L78.7 391.3 L78.4 392.2 L78.1 393.2 L77.8 394.2 L77.5 395.1 L77.3 396.1 L77.2 396.8 L77.0 397.3 L77.0 398.0 L76.9 398.5 L77.0 399.3 L77.1 400.0 L77.3 400.8 L77.5 402.0 L77.9 403.1 L78.2 404.3 L78.6 405.4 L79.0 406.2 L79.4 406.5 L79.8 407.0 L80.3 407.1 L80.8 407.1 L81.3 407.2 L81.8 407.3 L82.3 407.3 L82.9 407.4 L83.4 407.2 L84.0 407.3 L84.5 407.1 L84.9 406.9 L85.3 406.4 L85.6 406.2 L85.9 405.7 L86.1 405.5 L86.3 405.0 L86.4 404.7 L86.4 404.2 L86.3 403.7 L86.1 403.4 L85.9 402.9 L85.7 402.6 L85.4 402.3 L85.0 401.8 L84.6 401.7 L84.1 401.4 L83.6 401.1 L83.0 401.1 L82.5 401.0 L82.0 401.0 L81.5 400.9 L80.9 401.1 L80.4 401.3 L79.9 401.3 L79.5 401.7 L79.1 401.9 L78.9 402.2 L78.7 402.4 L78.5 402.6 L78.3 403.1 L78.0 403.8 L77.7 404.5 L77.3 405.2 L76.9 406.2 L76.6 407.1 L76.2 408.1 L76.0 409.0 L75.8 409.7 L75.6 410.2 L75.5 410.9 L75.5 411.4 L75.4 412.1 L75.5 412.9 L75.6 413.9 L75.8 414.9 L76.0 416.2 L76.3 417.3 L76.6 418.3 L76.9 419.1 L77.3 419.7 L77.7 420.1 L78.2 420.2 L78.6 420.5 L79.1 420.6 L79.6 420.7 L80.2 420.6 L80.7 420.7 L81.3 420.5 L81.8 420.7 L82.3 420.5 L82.8 420.3 L83.1 420.1 L83.5 419.7 L83.8 419.5 L84.1 419.0 L84.3 418.5 L84.4 418.3 L84.5 417.7 L84.4 417.5 L84.3 416.9 L84.1 416.4 L83.9 416.1 L83.6 415.8 L83.3 415.4 L82.8 415.1 L82.4 414.8 L81.9 414.4 L81.3 414.3 L80.8 414.3 L80.3 414.2 L79.8 414.1 L79.2 414.2 L78.7 414.4 L78.2 414.6 L77.7 414.8 L77.4 414.9 L77.1 415.2 L76.9 415.4 L76.7 415.8 L76.5 416.0 L76.1 416.7 L75.8 417.4 L75.4 418.1 L74.9 419.0 L74.4 420.1 L74.0 421.0 L73.7 421.7 L73.4 422.4 L73.2 423.1 L73.1 423.6 L73.0 424.0 L72.9 424.8 L72.9 425.5 L72.9 426.6 L73.0 427.6 L73.1 428.9 L73.4 430.0 L73.6 431.1 L73.8 431.9 L74.2 432.5 L74.6 432.9 L75.0 433.3 L75.5 433.4 L76.0 433.5 L76.5 433.7 L77.0 433.8 L77.5 433.7 L78.1 433.8 L78.6 433.7 L79.1 433.6 L79.6 433.5 L80.0 433.3 L80.4 432.9 L80.7 432.7 L81.0 432.3 L81.2 432.0 L81.4 431.6 L81.4 431.1 L81.4 430.8 L81.3 430.3 L81.2 429.9 L81.0 429.4 L80.7 429.1 L80.4 428.7 L80.0 428.4 L79.6 428.0 L79.1 427.9 L78.6 427.5 L78.1 427.4 L77.6 427.2 L77.0 427.3 L76.5 427.2 L75.9 427.3 L75.4 427.5 L75.0 427.6 L74.6 427.8 L74.3 428.0 L74.1 428.1 L73.8 428.6 L73.5 429.0 L73.2 429.5 L72.8 430.1 L72.3 431.0 L71.8 431.9 L71.3 432.8 L70.8 433.7 L70.5 434.3 L70.2 435.0 L69.9 435.7 L69.7 436.2 L69.6 436.9 L69.5 437.4 L69.5 438.2 L69.5 439.2 L69.5 440.3 L69.6 441.6 L69.8 442.7 L69.9 443.8 L70.2 444.6 L70.5 445.2 L70.9 445.6 L71.3 446.0 L71.8 446.1 L72.3 446.3 L72.7 446.4 L73.2 446.6 L73.8 446.5 L74.3 446.7 L74.9 446.6 L75.4 446.5 L75.9 446.3 L76.3 446.2 L76.6 446.0 L77.0 445.6 L77.3 445.2 L77.5 445.0 L77.7 444.5 L77.7 444.3 L77.8 443.8 L77.7 443.2 L77.6 442.9 L77.4 442.3 L77.2 442.0 L76.9 441.7 L76.5 441.3 L76.1 440.9 L75.5 440.7 L75.1 440.3 L74.6 440.2 L74.1 440.1 L73.5 440.1 L73.0 440.0 L72.4 440.1 L71.9 440.2 L71.5 440.3 L71.1 440.5 L70.8 440.6 L70.6 440.8 L70.3 441.3 L70.0 441.7 L69.7 442.1 L69.2 442.8 L68.7 443.6 L68.1 444.5 L67.6 445.4 L67.1 446.3 L66.7 447.2 L66.4 447.7 L66.1 448.4 L66.0 448.8 L65.8 449.6 L65.7 450.1 L65.7 450.8 L65.6 451.8 L65.6 453.1 L65.8 454.2 L65.8 455.6 L66.1 456.4 L66.3 457.3 L66.6 457.9 L67.0 458.3 L67.4 458.7 L67.9 458.8 L68.3 459.0 L68.8 459.1 L69.3 459.3 L69.8 459.5 L70.4 459.4 L71.0 459.3 L71.5 459.2 L72.0 459.1 L72.4 458.9 L72.7 458.8 L73.1 458.4 L73.4 458.2 L73.6 457.8 L73.8 457.3 L73.9 457.0 L73.9 456.5 L73.9 456.0 L73.7 455.7 L73.5 455.3 L73.3 454.7 L73.0 454.4 L72.6 454.0 L72.2 453.9 L71.7 453.5 L71.2 453.3 L70.7 453.1 L70.2 453.0 L69.7 452.8 L69.1 452.9 L68.6 452.8 L68.1 452.9 L67.6 453.0 L67.3 453.1 L67.0 453.3 L66.7 453.7 L66.4 453.9 L66.1 454.3 L65.8 454.8 L65.4 455.4 L64.8 456.3 L64.2 457.1 L63.7 458.0 L63.2 458.9 L62.7 459.7 L62.4 460.4 L62.2 460.9 L61.9 461.6 L61.8 462.0 L61.6 462.8 L61.5 463.5 L61.6 464.3 L61.5 465.6 L61.6 466.7 L61.6 468.0 L61.8 469.1 L62.0 470.0 L62.3 470.4 L62.6 471.0 L63.1 471.2 L63.5 471.4 L64.0 471.5 L64.5 471.7 L65.0 471.9 L65.5 472.1 L66.1 472.0 L66.6 472.2 L67.1 472.1 L67.5 472.0 L68.0 471.6 L68.4 471.5 L68.8 471.1 L69.1 470.9 L69.3 470.5 L69.5 470.3 L69.6 469.8 L69.7 469.3 L69.6 469.0 L69.5 468.4 L69.3 468.1 L69.1 467.7 L68.9 467.1 L68.4 467.0 L68.0 466.6 L67.6 466.1 L67.1 466.0 L66.6 465.8 L66.1 465.6 L65.6 465.5 L65.0 465.5 L64.4 465.6 L64.0 465.4 L63.5 465.8 L63.1 465.9 L62.8 466.1 L62.5 466.2 L62.3 466.4 L62.0 466.8 L61.6 467.5 L61.1 468.1 L60.6 468.7 L60.0 469.5 L59.4 470.4 L58.9 471.2 L58.4 472.1 L58.0 472.8 L57.8 473.2 L57.5 473.9 L57.4 474.4 L57.2 475.1 L57.1 475.8 L57.0 476.9 L57.0 477.9 L56.9 479.2 L57.0 480.3 L57.1 481.5 L57.2 482.3 L57.5 483.0 L57.8 483.4 L58.3 483.6 L58.7 484.0 L59.2 484.2 L59.6 484.4 L60.2 484.3 L60.7 484.5 L61.3 484.5 L61.8 484.7 L62.3 484.6 L62.8 484.5 L63.2 484.4 L63.6 484.1 L63.9 483.9 L64.3 483.5 L64.6 483.1 L64.7 482.9 L64.9 482.4 L64.9 482.1 L64.9 481.6 L64.8 481.0 L64.6 480.7 L64.4 480.3 L64.1 479.9 L63.8 479.5 L63.4 479.1 L63.0 478.7 L62.5 478.5 L62.0 478.3 L61.5 478.1 L61.0 477.9 L60.4 478.0 L59.9 478.0 L59.3 478.1 L58.9 478.2 L58.5 478.3 L58.2 478.4 L58.0 478.6 L57.6 479.0 L57.4 479.2 L56.9 479.8 L56.4 480.4 L55.9 481.0 L55.3 481.8 L54.6 482.9 L54.0 483.7 L53.6 484.4 L53.2 485.0 L52.9 485.7 L52.7 486.2 L52.5 486.6 L52.3 487.4 L52.2 488.1 L52.1 489.1 L52.1 490.2 L52.0 491.5 L52.1 492.6 L52.1 493.7 L52.3 494.6 L52.5 495.3 L52.9 495.7 L53.3 496.1 L53.7 496.3 L54.2 496.5 L54.7 496.7 L55.2 496.9 L55.7 496.8 L56.2 497.0 L56.8 497.0 L57.3 496.9 L57.8 496.9 L58.2 496.8 L58.7 496.4 L59.0 496.3 L59.4 495.9 L59.6 495.7 L59.8 495.2 L59.9 494.8 L59.9 494.5 L59.9 493.9 L59.8 493.6 L59.7 493.0 L59.5 492.7 L59.2 492.3 L58.9 491.9 L58.5 491.5 L58.0 491.3 L57.6 490.8 L57.1 490.6 L56.6 490.4 L56.1 490.5 L55.6 490.3 L55.0 490.3 L54.5 490.4 L54.0 490.5 L53.6 490.6 L53.3 490.7 L53.1 490.9 L52.7 491.3 L52.4 491.7 L52.0 492.1 L51.5 492.7 L50.9 493.5 L50.3 494.3 L49.6 495.2 L49.1 496.0 L48.6 496.7 L48.3 497.3 L47.9 498.0 L47.7 498.5 L47.5 499.2 L47.4 499.7 L47.2 500.5 L47.1 501.5 L47.1 502.6 L47.1 504.0 L47.2 505.1 L47.4 506.2 L47.6 507.1 L47.8 507.7 L48.2 508.1 L48.6 508.5 L49.1 508.6 L49.6 508.8 L50.0 509.0 L50.5 509.1 L51.1 509.1 L51.6 509.3 L52.2 509.2 L52.7 509.1 L53.2 509.0 L53.6 508.9 L53.9 508.8 L54.3 508.4 L54.7 508.0 L54.9 507.8 L55.1 507.3 L55.1 507.1 L55.2 506.6 L55.1 506.1 L55.0 505.7 L54.9 505.2 L54.7 504.9 L54.4 504.5 L54.0 504.1 L53.6 503.7 L53.1 503.5 L52.7 503.1 L52.2 502.9 L51.7 502.7 L51.1 502.8 L50.6 502.6 L50.1 502.6 L49.5 502.7 L49.1 502.8 L48.7 502.9 L48.4 503.1 L48.2 503.3 L47.8 503.7 L47.5 504.1 L47.2 504.5 L46.7 505.1 L46.1 506.0 L45.5 506.9 L44.9 507.8 L44.4 508.6 L43.9 509.6 L43.7 510.0 L43.4 510.7 L43.2 511.2 L43.0 512.0 L42.9 512.5 L42.9 513.3 L42.8 514.3 L42.8 515.7 L43.0 516.8 L43.1 518.1 L43.4 519.0 L43.6 519.8 L44.0 520.4 L44.4 520.8 L44.8 521.2 L45.3 521.3 L45.8 521.4 L46.3 521.5 L46.8 521.7 L47.3 521.8 L47.9 521.7 L48.4 521.6 L48.9 521.5 L49.4 521.3 L49.8 521.2 L50.1 521.0 L50.5 520.6 L50.7 520.4 L51.0 520.0 L51.1 519.5 L51.2 519.3 L51.2 518.8 L51.1 518.3 L51.0 518.0 L50.7 517.7 L50.5 517.1 L50.2 516.8 L49.9 516.4 L49.4 516.3 L48.9 515.9 L48.4 515.7 L47.9 515.6 L47.4 515.4 L46.9 515.3 L46.3 515.4 L45.8 515.2 L45.3 515.3 L44.8 515.5 L44.5 515.6 L44.2 515.8 L43.9 516.2 L43.7 516.4 L43.4 516.9 L43.0 517.3 L42.6 518.0 L42.1 518.9 L41.6 519.8 L41.1 520.7 L40.6 521.7 L40.2 522.6 L40.0 523.4 L39.8 523.9 L39.6 524.6 L39.5 525.1 L39.4 525.9 L39.4 526.7 L39.6 527.5 L39.7 528.9 L39.9 529.9 L40.2 531.3 L40.5 532.4 L40.9 533.2 L41.3 533.5 L41.7 534.1 L42.2 534.1 L42.7 534.2 L43.2 534.3 L43.7 534.3 L44.2 534.4 L44.8 534.5 L45.3 534.3 L45.9 534.4 L46.3 534.2 L46.8 534.0 L47.2 533.6 L47.5 533.4 L47.8 533.0 L48.0 532.8 L48.2 532.3 L48.3 532.1 L48.3 531.6 L48.3 531.2 L48.2 530.9 L48.0 530.4 L47.8 530.1 L47.5 529.8 L47.2 529.3 L46.7 529.2 L46.3 528.8 L45.8 528.5 L45.2 528.4 L44.7 528.3 L44.2 528.2 L43.7 528.1 L43.1 528.2 L42.6 528.4 L42.1 528.3 L41.6 528.7 L41.3 528.9 L41.0 529.1 L40.8 529.3 L40.6 529.5 L40.3 530.0 L40.0 530.7 L39.7 531.5 L39.3 532.2 L38.9 533.2 L38.5 534.2 L38.1 535.2 L37.9 536.2 L37.7 536.9 L37.6 537.5 L37.5 538.2 L37.4 538.7 L37.5 539.5 L37.6 540.3 L37.8 541.4 L38.1 542.4 L38.5 543.7 L38.9 544.7 L39.4 545.8 L39.8 546.6 L40.3 547.1 L40.8 547.3 L41.3 547.3 L41.8 547.6 L42.3 547.6 L42.8 547.6 L43.3 547.4 L43.8 547.4 L44.4 547.1 L44.9 547.2 L45.4 546.9 L45.8 546.7 L46.1 546.5 L46.4 546.0 L46.7 545.8 L46.9 545.3 L47.0 544.8 L47.1 544.6 L47.0 544.1 L46.9 543.9 L46.8 543.4 L46.5 542.9 L46.3 542.6 L45.9 542.4 L45.6 542.1 L45.1 541.8 L44.6 541.6 L44.1 541.3 L43.6 541.2 L43.0 541.2 L42.5 541.2 L42.0 541.1 L41.4 541.3 L40.9 541.6 L40.4 541.8 L40.0 542.0 L39.7 542.2 L39.4 542.5 L39.3 542.7 L39.1 543.2 L38.9 543.5 L38.7 544.2 L38.4 545.0 L38.1 545.7 L37.8 546.8 L37.5 548.1 L37.3 549.1 L37.2 549.9 L37.1 550.6 L37.0 551.4 L37.0 551.9 L37.0 552.5 L37.2 553.2 L37.4 554.0 L37.7 555.0 L38.1 556.0 L38.6 557.2 L39.1 558.2 L39.7 559.2 L40.2 559.9 L40.7 560.4 L41.2 560.6 L41.7 560.8 L42.3 560.8 L42.8 560.7 L43.3 560.7 L43.8 560.7 L44.3 560.4 L44.8 560.3 L45.3 560.1 L45.8 559.8 L46.1 559.5 L46.5 559.2 L46.7 558.7 L47.0 558.5 L47.1 558.0 L47.2 557.7 L47.2 557.2 L47.2 556.8 L47.0 556.5 L46.8 556.0 L46.6 555.8 L46.2 555.3 L45.9 555.1 L45.5 554.9 L45.0 554.7 L44.5 554.4 L43.9 554.5 L43.4 554.2 L42.9 554.3 L42.4 554.3 L41.8 554.6 L41.3 554.6 L40.8 554.9 L40.3 555.1 L40.0 555.4 L39.7 555.7 L39.4 555.9 L39.3 556.2 L39.1 556.7 L39.0 557.2 L38.8 557.7 L38.7 558.5 L38.5 559.5 L38.2 560.6 L38.1 561.6 L37.9 562.7 L37.9 563.4 L37.8 564.2 L37.8 565.0 L37.9 565.5 L38.0 566.2 L38.1 566.7 L38.4 567.5 L38.8 568.5 L39.3 569.4 L39.8 570.6 L40.4 571.6 L41.1 572.5 L41.6 573.2 L42.2 573.6 L42.7 573.8 L43.2 574.0 L43.7 573.9 L44.2 573.8 L44.7 573.7 L45.2 573.7 L45.7 573.3 L46.3 573.3 L46.7 572.9 L47.2 572.6 L47.5 572.3 L47.8 572.1 L48.1 571.8 L48.3 571.3 L48.4 570.8 L48.5 570.5 L48.5 570.0 L48.4 569.8 L48.2 569.3 L48.0 568.9 L47.7 568.7 L47.3 568.2 L47.0 568.0 L46.5 567.8 L46.1 567.6 L45.5 567.4 L45.0 567.5 L44.4 567.3 L43.9 567.4 L43.4 567.4 L42.9 567.7 L42.3 567.8 L41.9 568.1 L41.4 568.4 L41.1 568.7 L40.8 569.0 L40.6 569.3 L40.4 569.5 L40.3 570.1 L40.2 570.6 L40.1 571.1 L40.0 571.9 L39.9 573.2 L39.8 574.3 L39.7 575.4 L39.7 576.6 L39.8 577.6 L39.8 577.6 L39.8 577.6 L39.8 577.2 L39.8 576.9 L39.8 576.6 L39.9 576.6"/><path d="M259.8 99.2 L259.7 99.9 L259.5 100.6 L259.5 101.3 L259.5 102.1 L259.6 103.1 L259.7 104.1 L259.9 105.1 L260.1 106.4 L260.4 107.5 L260.7 108.1 L261.1 108.7 L261.5 109.0 L261.9 109.4 L262.4 109.5 L262.9 109.6 L263.4 109.7 L263.9 109.8 L264.5 109.9 L265.0 109.8 L265.6 109.6 L266.1 109.5 L266.5 109.3 L266.9 109.1 L267.3 109.0 L267.6 108.5 L267.8 108.3 L268.1 107.9 L268.2 107.4 L268.2 107.1 L268.2 106.6 L268.1 106.3 L267.9 105.8 L267.7 105.5 L267.5 104.9 L267.1 104.6 L266.7 104.2 L266.2 104.1 L265.7 103.8 L265.2 103.7 L264.7 103.6 L264.2 103.5 L263.7 103.4 L263.1 103.5 L262.6 103.4 L262.1 103.6 L261.6 103.7 L261.3 103.9 L261.0 104.3 L260.7 104.5 L260.5 104.7 L260.3 105.2 L260.0 105.6 L259.6 106.3 L259.2 107.3 L258.7 108.2 L258.3 109.1 L257.9 110.0 L257.6 110.8 L257.3 111.5 L257.2 112.0 L257.0 112.4 L256.9 113.2 L256.9 113.7 L256.9 114.5 L257.0 115.5 L257.1 116.6 L257.3 117.9 L257.5 119.0 L257.8 120.1 L258.1 120.9 L258.5 121.2 L258.9 121.8 L259.4 121.9 L259.9 122.0 L260.4 122.1 L260.9 122.2 L261.4 122.3 L261.9 122.4 L262.5 122.2 L263.0 122.3 L263.5 122.2 L264.0 122.0 L264.4 121.6 L264.7 121.4 L265.1 120.9 L265.3 120.7 L265.5 120.3 L265.6 120.0 L265.6 119.5 L265.6 119.0 L265.5 118.7 L265.3 118.2 L265.1 117.9 L264.8 117.6 L264.5 117.3 L264.1 117.0 L263.6 116.6 L263.1 116.3 L262.6 116.2 L262.1 116.0 L261.6 115.9 L261.1 115.8 L260.5 116.0 L259.9 116.1 L259.4 116.3 L259.0 116.4 L258.6 116.6 L258.4 116.8 L258.1 117.1 L257.9 117.3 L257.7 117.7 L257.3 118.4 L257.0 119.1 L256.6 119.8 L256.1 120.8 L255.7 121.7 L255.3 122.7 L255.1 123.4 L254.8 124.1 L254.7 124.6 L254.5 125.3 L254.5 125.9 L254.4 126.6 L254.5 127.1 L254.6 128.2 L254.8 129.2 L255.0 130.6 L255.3 131.6 L255.6 132.7 L255.9 133.5 L256.3 134.1 L256.7 134.4 L257.2 134.5 L257.7 134.8 L258.2 134.9 L258.7 135.0 L259.2 134.8 L259.8 134.9 L260.3 135.0 L260.8 134.8 L261.3 134.6 L261.8 134.5 L262.1 134.3 L262.5 133.8 L262.8 133.6 L263.1 133.2 L263.3 132.7 L263.3 132.5 L263.4 132.0 L263.3 131.7 L263.2 131.2 L263.0 130.7 L262.8 130.4 L262.5 130.1 L262.1 129.7 L261.7 129.4 L261.3 129.1 L260.8 128.8 L260.2 128.7 L259.7 128.6 L259.2 128.5 L258.7 128.4 L258.1 128.5 L257.6 128.7 L257.1 128.9 L256.6 129.1 L256.3 129.3 L256.0 129.5 L255.8 129.7 L255.6 130.2 L255.3 130.6 L255.0 131.1 L254.7 131.8 L254.3 132.5 L253.9 133.5 L253.5 134.4 L253.2 135.4 L252.9 136.1 L252.7 136.9 L252.6 137.6 L252.5 138.1 L252.4 138.6 L252.4 139.4 L252.5 140.2 L252.6 141.0 L252.8 142.3 L253.1 143.3 L253.4 144.4 L253.8 145.5 L254.1 146.3 L254.5 146.8 L255.0 147.1 L255.5 147.4 L256.0 147.5 L256.5 147.5 L257.0 147.6 L257.5 147.7 L258.0 147.5 L258.6 147.5 L259.1 147.4 L259.6 147.2 L260.0 147.0 L260.4 146.8 L260.7 146.3 L261.0 146.1 L261.3 145.6 L261.4 145.4 L261.5 144.9 L261.5 144.4 L261.5 144.2 L261.3 143.6 L261.1 143.4 L260.9 142.8 L260.6 142.5 L260.2 142.2 L259.8 141.9 L259.3 141.6 L258.8 141.6 L258.3 141.2 L257.8 141.2 L257.3 141.1 L256.7 141.3 L256.2 141.2 L255.6 141.4 L255.1 141.6 L254.7 141.8 L254.4 142.0 L254.1 142.2 L253.9 142.4 L253.7 142.9 L253.4 143.4 L253.2 143.9 L252.9 144.6 L252.5 145.3 L252.1 146.3 L251.8 147.3 L251.5 148.3 L251.2 149.3 L251.1 149.8 L251.0 150.5 L250.9 151.0 L250.9 151.5 L250.9 152.3 L251.0 153.1 L251.1 154.1 L251.4 155.1 L251.7 156.2 L252.1 157.5 L252.5 158.2 L252.9 159.0 L253.3 159.6 L253.7 159.9 L254.2 160.2 L254.7 160.2 L255.2 160.2 L255.7 160.3 L256.2 160.3 L256.8 160.1 L257.3 160.2 L257.9 160.0 L258.4 159.8 L258.8 159.6 L259.1 159.3 L259.4 159.1 L259.7 158.6 L260.0 158.2 L260.1 157.9 L260.2 157.4 L260.2 157.2 L260.1 156.7 L260.0 156.2 L259.7 155.9 L259.5 155.4 L259.2 155.1 L258.8 154.8 L258.4 154.5 L257.9 154.2 L257.3 154.2 L256.8 154.1 L256.3 153.8 L255.8 154.0 L255.2 154.0 L254.7 153.9 L254.2 154.1 L253.7 154.3 L253.3 154.5 L252.9 154.8 L252.7 155.0 L252.5 155.5 L252.3 155.7 L252.1 156.2 L251.8 156.7 L251.5 157.4 L251.2 158.4 L250.9 159.4 L250.5 160.3 L250.3 161.1 L250.1 162.1 L249.9 162.8 L249.8 163.3 L249.7 163.8 L249.7 164.6 L249.7 165.1 L249.8 165.8 L250.0 166.9 L250.3 167.9 L250.6 168.9 L251.0 170.2 L251.4 171.3 L251.8 171.8 L252.3 172.4 L252.8 172.6 L253.2 172.9 L253.7 172.9 L254.3 173.0 L254.8 173.0 L255.3 173.0 L255.8 173.1 L256.4 172.8 L256.9 172.6 L257.4 172.4 L257.8 172.2 L258.1 172.0 L258.4 171.7 L258.7 171.3 L258.9 171.0 L259.1 170.5 L259.1 170.0 L259.1 169.8 L259.0 169.3 L258.9 169.0 L258.7 168.5 L258.4 168.3 L258.1 167.7 L257.7 167.5 L257.3 167.2 L256.7 167.1 L256.2 166.8 L255.7 166.8 L255.2 166.8 L254.7 166.7 L254.1 166.7 L253.6 166.9 L253.1 166.9 L252.6 167.1 L252.2 167.3 L251.8 167.5 L251.6 168.0 L251.4 168.2 L251.2 168.5 L251.0 169.0 L250.8 169.5 L250.5 170.2 L250.2 171.2 L249.9 172.2 L249.6 173.2 L249.3 174.2 L249.1 175.0 L249.0 175.8 L248.9 176.3 L248.9 176.8 L248.9 177.5 L249.0 178.0 L249.1 178.8 L249.3 179.8 L249.7 180.9 L250.0 182.1 L250.5 183.1 L250.9 184.2 L251.4 184.9 L251.8 185.2 L252.3 185.7 L252.8 185.7 L253.3 185.7 L253.8 185.7 L254.3 185.7 L254.8 185.7 L255.4 185.8 L255.9 185.5 L256.4 185.5 L256.9 185.3 L257.3 185.1 L257.7 184.6 L258.0 184.3 L258.2 183.8 L258.4 183.6 L258.5 183.1 L258.6 182.8 L258.6 182.3 L258.5 181.8 L258.3 181.6 L258.0 181.1 L257.7 180.8 L257.4 180.6 L257.0 180.3 L256.6 180.0 L256.1 179.8 L255.5 179.5 L255.0 179.5 L254.5 179.5 L254.0 179.5 L253.4 179.5 L252.9 179.7 L252.4 179.9 L251.9 180.2 L251.5 180.4 L251.2 180.6 L250.9 180.9 L250.7 181.1 L250.6 181.4 L250.4 181.9 L250.2 182.6 L250.0 183.4 L249.7 184.1 L249.4 185.1 L249.1 186.1 L248.9 187.1 L248.8 187.9 L248.7 188.6 L248.6 189.1 L248.5 189.8 L248.6 190.3 L248.6 191.1 L248.8 191.6 L249.0 192.6 L249.4 193.6 L249.7 194.9 L250.2 195.9 L250.6 196.9 L251.1 197.7 L251.5 198.2 L252.0 198.4 L252.5 198.5 L253.0 198.7 L253.5 198.7 L254.0 198.7 L254.6 198.5 L255.1 198.5 L255.6 198.5 L256.2 198.3 L256.6 198.0 L257.0 197.8 L257.4 197.5 L257.7 197.1 L257.9 196.8 L258.1 196.3 L258.3 195.8 L258.3 195.6 L258.3 195.1 L258.2 194.8 L258.0 194.3 L257.7 193.8 L257.4 193.6 L257.1 193.3 L256.7 193.0 L256.3 192.8 L255.8 192.5 L255.2 192.3 L254.7 192.2 L254.2 192.2 L253.7 192.2 L253.1 192.2 L252.6 192.4 L252.1 192.7 L251.6 192.9 L251.2 193.2 L250.9 193.4 L250.6 193.7 L250.4 193.9 L250.3 194.4 L250.1 194.9 L249.9 195.4 L249.7 196.1 L249.4 196.9 L249.1 197.9 L248.9 198.9 L248.7 199.9 L248.5 200.6 L248.4 201.4 L248.3 202.1 L248.3 202.6 L248.3 203.1 L248.4 203.9 L248.5 204.7 L248.8 205.4 L249.1 206.7 L249.5 207.7 L250.0 208.7 L250.5 209.7 L250.9 210.5 L251.4 211.0 L251.9 211.2 L252.4 211.5 L252.9 211.5 L253.4 211.5 L253.9 211.5 L254.4 211.5 L254.9 211.2 L255.5 211.2 L256.0 211.0 L256.5 210.7 L256.8 210.5 L257.2 210.3 L257.5 209.8 L257.7 209.5 L257.9 209.0 L258.1 208.8 L258.1 208.3 L258.1 207.8 L257.9 207.5 L257.8 207.0 L257.5 206.8 L257.2 206.3 L256.9 206.0 L256.5 205.8 L256.0 205.5 L255.5 205.2 L255.0 205.2 L254.5 205.0 L253.9 205.0 L253.4 205.0 L252.9 205.2 L252.3 205.2 L251.8 205.5 L251.4 205.7 L251.0 205.9 L250.6 206.2 L250.4 206.4 L250.2 206.7 L250.1 207.2 L249.9 207.7 L249.7 208.2 L249.5 208.9 L249.2 209.7 L248.9 210.7 L248.7 211.7 L248.5 212.7 L248.4 213.7 L248.3 214.2 L248.2 215.0 L248.2 215.5 L248.2 216.0 L248.3 216.7 L248.5 217.5 L248.7 218.5 L249.1 219.5 L249.5 220.5 L249.9 221.7 L250.4 222.5 L250.9 223.2 L251.4 223.7 L251.8 224.0 L252.3 224.2 L252.9 224.2 L253.4 224.2 L253.9 224.2 L254.4 224.2 L254.9 224.0 L255.5 224.0 L256.0 223.7 L256.4 223.5 L256.8 223.2 L257.2 223.0 L257.5 222.7 L257.7 222.2 L257.9 221.7 L258.0 221.5 L258.1 221.0 L258.0 220.7 L257.9 220.2 L257.7 219.7 L257.5 219.5 L257.2 219.0 L256.8 218.7 L256.4 218.5 L256.0 218.2 L255.4 218.0 L254.9 218.0 L254.4 218.0 L253.9 217.7 L253.3 218.0 L252.8 218.0 L252.3 218.0 L251.7 218.2 L251.3 218.5 L250.9 218.7 L250.6 219.0 L250.3 219.2 L250.2 219.7 L250.0 220.0 L249.8 220.5 L249.7 221.0 L249.4 221.7 L249.2 222.7 L248.9 223.7 L248.7 224.8 L248.5 225.5 L248.4 226.5 L248.3 227.3 L248.2 227.8 L248.2 228.3 L248.3 229.0 L248.3 229.5 L248.5 230.3 L248.8 231.3 L249.2 232.3 L249.6 233.3 L250.1 234.5 L250.6 235.5 L251.1 236.0 L251.5 236.5 L252.0 236.8 L252.5 237.0 L253.0 237.0 L253.5 237.0 L254.0 237.0 L254.6 237.0 L255.1 236.9 L255.6 236.7 L256.1 236.4 L256.6 236.2 L257.0 235.9 L257.3 235.6 L257.6 235.4 L257.9 234.9 L258.0 234.6 L258.1 234.1 L258.2 233.6 L258.1 233.4 L258.0 232.9 L257.8 232.7 L257.6 232.2 L257.3 231.9 L256.9 231.4 L256.5 231.2 L256.0 230.9 L255.5 230.9 L255.0 230.7 L254.4 230.7 L253.9 230.7 L253.4 230.7 L252.9 230.7 L252.3 231.0 L251.8 231.0 L251.4 231.3 L251.0 231.5 L250.7 231.8 L250.4 232.3 L250.3 232.5 L250.1 232.8 L250.0 233.3 L249.8 233.8 L249.6 234.6 L249.3 235.6 L249.1 236.6 L248.9 237.6 L248.7 238.6 L248.6 239.4 L248.5 240.1 L248.5 240.6 L248.5 241.1 L248.5 241.9 L248.6 242.4 L248.8 243.1 L249.1 244.1 L249.5 245.1 L249.9 246.4 L250.4 247.3 L250.9 248.3 L251.4 249.1 L251.9 249.3 L252.4 249.8 L252.9 249.8 L253.4 249.7 L253.9 249.7 L254.4 249.7 L254.9 249.7 L255.5 249.7 L256.0 249.4 L256.5 249.4 L257.0 249.1 L257.4 248.9 L257.7 248.3 L258.0 248.1 L258.2 247.6 L258.4 247.3 L258.5 246.8 L258.5 246.6 L258.5 246.1 L258.3 245.6 L258.1 245.3 L257.9 244.9 L257.6 244.6 L257.2 244.4 L256.8 244.1 L256.3 243.9 L255.8 243.7 L255.3 243.4 L254.7 243.4 L254.2 243.5 L253.7 243.5 L253.2 243.5 L252.6 243.8 L252.1 244.0 L251.7 244.3 L251.3 244.6 L251.0 244.8 L250.8 245.1 L250.6 245.3 L250.4 245.6 L250.3 246.1 L250.1 246.8 L249.9 247.6 L249.7 248.4 L249.5 249.4 L249.3 250.4 L249.1 251.4 L249.0 252.2 L248.9 252.9 L248.9 253.4 L248.9 254.2 L249.0 254.7 L249.1 255.4 L249.3 255.9 L249.6 256.9 L250.0 257.9 L250.4 259.2 L250.9 260.1 L251.5 261.1 L252.0 261.8 L252.5 262.3 L253.0 262.5 L253.5 262.5 L254.0 262.7 L254.5 262.7 L255.0 262.7 L255.5 262.4 L256.0 262.4 L256.6 262.4 L257.1 262.1 L257.5 261.8 L257.9 261.5 L258.2 261.3 L258.5 260.8 L258.7 260.5 L258.9 260.0 L259.0 259.5 L259.0 259.3 L259.0 258.8 L258.8 258.5 L258.6 258.0 L258.3 257.5 L258.0 257.3 L257.7 257.1 L257.3 256.8 L256.8 256.6 L256.3 256.4 L255.7 256.2 L255.2 256.2 L254.7 256.2 L254.2 256.2 L253.6 256.2 L253.1 256.5 L252.6 256.8 L252.1 257.1 L251.8 257.3 L251.5 257.6 L251.2 257.9 L251.1 258.1 L250.9 258.6 L250.8 259.1 L250.6 259.6 L250.4 260.4 L250.2 261.2 L250.0 262.2 L249.8 263.2 L249.7 264.2 L249.6 265.0 L249.5 265.7 L249.5 266.5 L249.5 267.0 L249.6 267.5 L249.7 268.3 L249.9 269.0 L250.2 269.7 L250.7 271.0 L251.1 272.0 L251.7 272.9 L252.2 273.9 L252.7 274.6 L253.2 275.1 L253.7 275.3 L254.2 275.5 L254.7 275.5 L255.2 275.5 L255.7 275.4 L256.3 275.4 L256.8 275.1 L257.3 275.1 L257.8 274.8 L258.3 274.5 L258.6 274.2 L259.0 273.9 L259.2 273.4 L259.4 273.2 L259.6 272.7 L259.7 272.4 L259.7 271.9 L259.6 271.4 L259.5 271.2 L259.3 270.7 L259.0 270.5 L258.7 270.0 L258.3 269.7 L257.9 269.5 L257.5 269.3 L256.9 269.1 L256.4 269.1 L255.8 268.9 L255.3 268.9 L254.8 269.0 L254.3 269.2 L253.7 269.3 L253.3 269.6 L252.8 269.8 L252.4 270.1 L252.1 270.4 L251.9 270.6 L251.7 270.9 L251.6 271.4 L251.5 271.9 L251.3 272.5 L251.2 273.2 L251.0 274.0 L250.8 275.0 L250.6 276.0 L250.5 277.1 L250.4 278.1 L250.4 278.6 L250.4 279.3 L250.4 279.8 L250.4 280.3 L250.6 281.1 L250.8 281.8 L251.2 282.8 L251.6 283.8 L252.1 284.8 L252.7 286.0 L253.2 286.7 L253.7 287.4 L254.2 287.8 L254.7 288.1 L255.3 288.3 L255.8 288.2 L256.3 288.2 L256.8 288.1 L257.3 288.1 L257.8 287.8 L258.3 287.7 L258.8 287.4 L259.3 287.1 L259.6 286.9 L260.0 286.6 L260.2 286.3 L260.4 285.8 L260.6 285.3 L260.7 285.0 L260.7 284.5 L260.6 284.3 L260.4 283.8 L260.2 283.3 L260.0 283.1 L259.6 282.6 L259.3 282.4 L258.8 282.2 L258.4 282.0 L257.8 281.8 L257.3 281.8 L256.8 281.9 L256.2 281.6 L255.7 281.9 L255.2 282.0 L254.7 282.0 L254.2 282.3 L253.7 282.6 L253.3 282.9 L253.1 283.2 L252.8 283.4 L252.7 283.9 L252.6 284.2 L252.4 284.7 L252.3 285.2 L252.1 286.0 L252.0 287.0 L251.8 288.1 L251.7 289.1 L251.5 289.9 L251.5 290.9 L251.5 291.7 L251.5 292.2 L251.5 292.7 L251.6 293.4 L251.7 293.9 L252.0 294.6 L252.3 295.6 L252.8 296.6 L253.3 297.5 L253.9 298.7 L254.5 299.7 L255.0 300.1 L255.5 300.6 L256.0 300.8 L256.6 301.0 L257.1 300.9 L257.6 300.9 L258.1 300.8 L258.6 300.7 L259.1 300.7 L259.6 300.4 L260.1 300.1 L260.5 299.8 L260.9 299.5 L261.2 299.2 L261.5 298.9 L261.7 298.4 L261.8 298.1 L261.9 297.6 L261.9 297.1 L261.8 296.9 L261.7 296.4 L261.4 296.2 L261.1 295.7 L260.8 295.5 L260.4 295.0 L260.0 294.8 L259.5 294.6 L259.0 294.7 L258.5 294.5 L257.9 294.5 L257.4 294.6 L256.9 294.6 L256.4 294.7 L255.8 295.0 L255.3 295.1 L254.9 295.4 L254.5 295.6 L254.3 295.9 L254.1 296.4 L253.9 296.7 L253.8 297.0 L253.7 297.5 L253.5 298.0 L253.4 298.8 L253.3 299.8 L253.1 300.8 L253.0 301.8 L252.9 302.9 L252.8 303.6 L252.8 304.4 L252.8 304.9 L252.8 305.4 L252.9 306.1 L253.1 306.6 L253.3 307.3 L253.7 308.3 L254.2 309.3 L254.7 310.5 L255.3 311.4 L255.8 312.4 L256.4 313.0 L256.9 313.2 L257.4 313.7 L257.9 313.6 L258.4 313.6 L258.9 313.5 L259.4 313.5 L259.9 313.4 L260.5 313.4 L261.0 313.1 L261.5 313.0 L261.9 312.7 L262.3 312.4 L262.6 311.9 L262.8 311.6 L263.0 311.1 L263.2 310.8 L263.3 310.3 L263.3 310.0 L263.2 309.6 L263.0 309.1 L262.8 308.8 L262.5 308.4 L262.2 308.2 L261.8 307.9 L261.4 307.7 L260.9 307.5 L260.4 307.3 L259.8 307.2 L259.3 307.2 L258.7 307.3 L258.2 307.3 L257.7 307.4 L257.2 307.7 L256.7 308.0 L256.3 308.3 L255.9 308.6 L255.6 308.9 L255.4 309.1 L255.3 309.4 L255.1 309.7 L255.0 310.2 L254.9 310.9 L254.8 311.7 L254.6 312.5 L254.5 313.5 L254.3 314.5 L254.2 315.5 L254.2 316.3 L254.1 317.0 L254.1 317.5 L254.2 318.2 L254.2 318.7 L254.4 319.4 L254.6 319.9 L254.9 320.9 L255.4 321.8 L255.9 323.0 L256.4 324.0 L257.0 324.9 L257.5 325.7 L258.0 326.1 L258.5 326.3 L259.0 326.3 L259.5 326.5 L260.0 326.5 L260.5 326.4 L261.0 326.2 L261.6 326.1 L262.1 326.1 L262.6 325.8 L263.0 325.5 L263.4 325.2 L263.7 324.9 L264.0 324.4 L264.2 324.2 L264.4 323.6 L264.4 323.1 L264.5 322.9 L264.4 322.4 L264.2 322.1 L264.0 321.6 L263.7 321.2 L263.4 320.9 L263.1 320.7 L262.6 320.5 L262.2 320.3 L261.6 320.1 L261.1 319.9 L260.5 319.9 L260.0 320.0 L259.5 320.0 L259.0 320.0 L258.5 320.3 L258.0 320.6 L257.5 320.9 L257.1 321.2 L256.9 321.5 L256.6 321.7 L256.5 322.0 L256.4 322.5 L256.2 323.0 L256.1 323.5 L255.9 324.3 L255.7 325.0 L255.6 326.1 L255.4 327.1 L255.3 328.1 L255.2 328.8 L255.1 329.6 L255.1 330.3 L255.1 330.8 L255.2 331.3 L255.3 332.0 L255.5 332.8 L255.8 333.5 L256.3 334.7 L256.8 335.7 L257.3 336.6 L257.8 337.6 L258.3 338.3 L258.8 338.8 L259.3 339.0 L259.8 339.2 L260.3 339.2 L260.8 339.2 L261.3 339.2 L261.8 339.1 L262.4 338.9 L262.9 338.8 L263.4 338.6 L263.8 338.3 L264.2 338.0 L264.5 337.7 L264.8 337.2 L265.0 337.0 L265.2 336.4 L265.3 336.2 L265.3 335.7 L265.3 335.2 L265.1 334.9 L264.9 334.4 L264.6 334.2 L264.3 333.7 L264.0 333.5 L263.6 333.3 L263.1 333.0 L262.5 332.8 L262.0 332.9 L261.5 332.6 L260.9 332.7 L260.4 332.7 L259.9 333.0 L259.4 333.0 L258.9 333.3 L258.4 333.6 L258.0 333.9 L257.8 334.1 L257.5 334.4 L257.4 334.6 L257.2 335.1 L257.1 335.7 L256.9 336.2 L256.8 336.9 L256.5 337.7 L256.3 338.7 L256.2 339.7 L256.0 340.7 L255.9 341.7 L255.9 342.2 L255.8 342.9 L255.8 343.4 L255.9 343.9 L256.0 344.7 L256.2 345.4 L256.5 346.4 L256.9 347.4 L257.4 348.4 L257.9 349.6 L258.4 350.3 L258.9 351.0 L259.4 351.5 L259.9 351.7 L260.4 352.0 L260.9 352.0 L261.4 351.9 L261.9 351.9 L262.4 351.9 L263.0 351.6 L263.5 351.6 L264.0 351.3 L264.5 351.0 L264.8 350.8 L265.2 350.5 L265.5 350.2 L265.7 349.7 L265.8 349.2 L266.0 349.0 L266.0 348.5 L265.9 348.2 L265.8 347.7 L265.6 347.2 L265.3 347.0 L265.0 346.5 L264.6 346.3 L264.2 346.0 L263.8 345.8 L263.2 345.6 L262.7 345.6 L262.1 345.6 L261.6 345.4 L261.1 345.7 L260.6 345.7 L260.0 345.7 L259.5 346.0 L259.1 346.3 L258.7 346.6 L258.4 346.8 L258.2 347.1 L258.0 347.6 L257.9 347.8 L257.7 348.3 L257.6 348.9 L257.4 349.6 L257.2 350.6 L257.0 351.6 L256.8 352.6 L256.6 353.4 L256.5 354.4 L256.5 355.1 L256.4 355.6 L256.4 356.1 L256.5 356.9 L256.6 357.4 L256.8 358.1 L257.1 359.1 L257.5 360.1 L257.9 361.0 L258.4 362.3 L258.9 363.3 L259.4 363.7 L259.9 364.2 L260.4 364.5 L260.9 364.7 L261.4 364.7 L261.9 364.7 L262.4 364.7 L262.9 364.6 L263.5 364.6 L264.0 364.4 L264.5 364.1 L264.9 363.8 L265.3 363.6 L265.7 363.3 L266.0 363.0 L266.2 362.5 L266.4 362.3 L266.5 361.8 L266.5 361.3 L266.4 361.0 L266.3 360.5 L266.1 360.3 L265.8 359.8 L265.5 359.5 L265.2 359.0 L264.8 358.8 L264.3 358.6 L263.8 358.6 L263.2 358.4 L262.7 358.4 L262.2 358.4 L261.7 358.4 L261.1 358.4 L260.6 358.7 L260.1 358.7 L259.6 359.0 L259.3 359.3 L259.0 359.5 L258.7 360.0 L258.6 360.3 L258.4 360.5 L258.3 361.0 L258.1 361.5 L257.9 362.3 L257.7 363.3 L257.5 364.3 L257.2 365.3 L257.1 366.3 L257.0 367.0 L256.9 367.8 L256.8 368.3 L256.8 368.8 L256.9 369.5 L257.0 370.0 L257.1 370.8 L257.4 371.7 L257.8 372.7 L258.2 374.0 L258.7 375.0 L259.2 375.9 L259.7 376.7 L260.1 376.9 L260.6 377.4 L261.1 377.4 L261.6 377.4 L262.1 377.4 L262.6 377.4 L263.2 377.4 L263.7 377.4 L264.2 377.1 L264.7 377.1 L265.2 376.9 L265.6 376.6 L265.9 376.1 L266.2 375.9 L266.5 375.4 L266.7 375.1 L266.8 374.6 L266.8 374.3 L266.8 373.8 L266.6 373.3 L266.4 373.1 L266.2 372.6 L265.9 372.3 L265.5 372.1 L265.1 371.9 L264.7 371.6 L264.2 371.4 L263.6 371.1 L263.1 371.1 L262.6 371.2 L262.0 371.2 L261.5 371.2 L261.0 371.4 L260.5 371.7 L260.0 371.9 L259.6 372.2 L259.3 372.5 L259.1 372.7 L258.9 373.0 L258.7 373.2 L258.6 373.7 L258.4 374.5 L258.2 375.2 L257.9 376.0 L257.7 377.0 L257.5 377.9 L257.3 378.9 L257.2 379.7 L257.1 380.4 L257.0 380.9 L257.0 381.7 L257.0 382.2 L257.1 382.9 L257.3 383.4 L257.5 384.4 L257.9 385.4 L258.3 386.6 L258.8 387.6 L259.2 388.6 L259.7 389.4 L260.1 389.9 L260.6 390.1 L261.1 390.1 L261.6 390.4 L262.1 390.4 L262.6 390.4 L263.2 390.2 L263.7 390.2 L264.2 390.2 L264.7 389.9 L265.2 389.7 L265.6 389.4 L266.0 389.2 L266.3 388.7 L266.5 388.4 L266.7 387.9 L266.8 387.4 L266.9 387.2 L266.8 386.7 L266.7 386.4 L266.5 385.9 L266.3 385.4 L266.0 385.2 L265.6 384.9 L265.2 384.7 L264.8 384.4 L264.3 384.2 L263.7 383.9 L263.2 383.9 L262.7 383.9 L262.2 383.9 L261.6 383.9 L261.1 384.2 L260.6 384.4 L260.1 384.7 L259.7 384.9 L259.4 385.1 L259.2 385.4 L259.0 385.6 L258.8 386.1 L258.7 386.6 L258.5 387.1 L258.2 387.9 L258.0 388.6 L257.7 389.6 L257.5 390.6 L257.3 391.6 L257.1 392.3 L257.0 393.1 L256.9 393.8 L256.9 394.3 L256.9 394.8 L257.0 395.5 L257.1 396.3 L257.4 397.0 L257.7 398.3 L258.1 399.3 L258.5 400.3 L259.0 401.3 L259.4 402.1 L259.8 402.6 L260.3 402.8 L260.8 403.1 L261.3 403.1 L261.8 403.1 L262.3 403.2 L262.8 403.2 L263.4 402.9 L263.9 403.0 L264.5 402.7 L264.9 402.5 L265.3 402.3 L265.7 402.0 L266.0 401.5 L266.2 401.3 L266.4 400.8 L266.6 400.5 L266.6 400.0 L266.6 399.5 L266.5 399.3 L266.3 398.8 L266.1 398.5 L265.8 398.0 L265.5 397.7 L265.1 397.5 L264.6 397.2 L264.1 396.9 L263.6 396.9 L263.0 396.7 L262.5 396.7 L262.0 396.6 L261.5 396.9 L260.9 396.9 L260.4 397.1 L259.9 397.3 L259.5 397.6 L259.2 397.8 L259.0 398.1 L258.8 398.3 L258.6 398.8 L258.4 399.3 L258.2 399.8 L258.0 400.5 L257.7 401.3 L257.4 402.2 L257.2 403.2 L256.9 404.2 L256.8 405.2 L256.6 405.7 L256.5 406.4 L256.5 406.9 L256.5 407.4 L256.6 408.1 L256.7 408.9 L256.9 409.9 L257.2 410.9 L257.6 411.9 L258.0 413.2 L258.4 414.0 L258.8 414.7 L259.2 415.3 L259.7 415.5 L260.2 415.8 L260.7 415.8 L261.2 415.9 L261.7 415.9 L262.2 415.9 L262.8 415.7 L263.3 415.7 L263.9 415.5 L264.3 415.3 L264.7 415.1 L265.1 414.8 L265.4 414.6 L265.7 414.1 L265.9 413.6 L266.0 413.4 L266.1 412.9 L266.1 412.6 L266.0 412.1 L265.8 411.6 L265.6 411.3 L265.3 410.8 L265.0 410.6 L264.6 410.3 L264.1 410.0 L263.6 409.7 L263.1 409.7 L262.6 409.7 L262.1 409.4 L261.5 409.6 L261.0 409.6 L260.5 409.6 L259.9 409.8 L259.5 410.0 L259.0 410.3 L258.7 410.5 L258.5 410.7 L258.3 411.2 L258.1 411.4 L257.9 411.9 L257.7 412.4 L257.4 413.2 L257.1 414.1 L256.8 415.1 L256.5 416.1 L256.3 416.8 L256.1 417.8 L256.0 418.6 L255.9 419.1 L255.8 419.6 L255.8 420.3 L255.9 420.8 L256.0 421.6 L256.2 422.6 L256.5 423.6 L256.9 424.6 L257.3 425.9 L257.7 426.9 L258.1 427.4 L258.5 428.0 L259.0 428.2 L259.5 428.5 L260.0 428.6 L260.5 428.6 L261.0 428.6 L261.5 428.7 L262.0 428.7 L262.6 428.5 L263.1 428.3 L263.6 428.0 L264.0 427.8 L264.4 427.6 L264.7 427.4 L265.0 426.9 L265.2 426.6 L265.3 426.1 L265.4 425.6 L265.4 425.4 L265.3 424.9 L265.1 424.6 L264.9 424.1 L264.6 423.8 L264.3 423.3 L263.9 423.0 L263.5 422.8 L262.9 422.7 L262.4 422.4 L261.9 422.4 L261.4 422.4 L260.8 422.4 L260.3 422.3 L259.8 422.5 L259.2 422.5 L258.8 422.7 L258.4 423.0 L258.0 423.2 L257.8 423.7 L257.6 423.9 L257.4 424.2 L257.2 424.7 L257.0 425.1 L256.7 425.9 L256.4 426.8 L256.1 427.8 L255.8 428.8 L255.5 429.7 L255.4 430.5 L255.2 431.2 L255.1 431.7 L255.0 432.2 L255.0 432.9 L255.0 433.4 L255.1 434.1 L255.3 435.1 L255.6 436.1 L255.9 437.4 L256.2 438.4 L256.6 439.5 L257.0 440.3 L257.4 440.6 L257.8 441.1 L258.3 441.2 L258.9 441.2 L259.4 441.3 L259.9 441.3 L260.4 441.4 L260.9 441.4 L261.5 441.2 L262.0 441.3 L262.5 441.1 L262.9 440.9 L263.3 440.4 L263.6 440.2 L263.9 439.7 L264.1 439.5 L264.3 439.0 L264.3 438.8 L264.4 438.3 L264.3 437.8 L264.1 437.5 L263.9 437.0 L263.7 436.7 L263.3 436.4 L263.0 436.1 L262.5 435.8 L262.0 435.5 L261.5 435.2 L261.0 435.2 L260.5 435.1 L260.0 435.1 L259.4 435.0 L258.9 435.2 L258.3 435.4 L257.8 435.6 L257.4 435.8 L257.1 436.0 L256.8 436.3 L256.6 436.5 L256.5 436.7 L256.2 437.2 L256.0 437.9 L255.7 438.6 L255.4 439.4 L255.0 440.3 L254.7 441.3 L254.4 442.3 L254.2 443.0 L254.0 443.8 L253.9 444.3 L253.8 445.0 L253.8 445.5 L253.8 446.3 L253.9 446.8 L254.1 447.9 L254.3 448.9 L254.7 450.2 L255.0 451.2 L255.4 452.3 L255.8 453.0 L256.2 453.6 L256.7 453.9 L257.2 453.9 L257.7 454.2 L258.2 454.2 L258.7 454.3 L259.2 454.1 L259.8 454.1 L260.3 454.2 L260.8 454.0 L261.3 453.7 L261.7 453.5 L262.1 453.3 L262.4 452.8 L262.7 452.6 L262.9 452.1 L263.1 451.6 L263.2 451.4 L263.2 450.9 L263.1 450.6 L262.9 450.1 L262.7 449.6 L262.4 449.3 L262.1 449.0 L261.7 448.8 L261.3 448.5 L260.8 448.2 L260.3 447.9 L259.8 447.8 L259.2 447.8 L258.7 447.8 L258.2 447.7 L257.6 447.9 L257.1 448.1 L256.6 448.3 L256.2 448.5 L255.9 448.8 L255.6 449.0 L255.4 449.2 L255.2 449.7 L255.0 450.2 L254.8 450.7 L254.5 451.4 L254.2 452.2 L253.9 453.1 L253.5 454.1 L253.3 455.1 L253.1 455.8 L252.9 456.5 L252.8 457.3 L252.7 457.8 L252.7 458.2 L252.7 459.0 L252.8 459.7 L253.0 460.5 L253.2 461.8 L253.5 462.8 L253.9 463.8 L254.3 464.9 L254.6 465.7 L255.0 466.2 L255.5 466.5 L256.0 466.8 L256.5 466.9 L257.0 466.9 L257.5 467.0 L258.0 467.0 L258.6 466.8 L259.1 466.9 L259.6 466.7 L260.1 466.5 L260.5 466.3 L260.9 466.1 L261.2 465.6 L261.5 465.4 L261.8 464.9 L261.9 464.7 L262.0 464.2 L262.0 463.7 L261.9 463.4 L261.8 462.9 L261.6 462.6 L261.3 462.1 L261.0 461.8 L260.6 461.5 L260.2 461.2 L259.7 460.9 L259.2 460.9 L258.7 460.6 L258.2 460.5 L257.6 460.5 L257.1 460.7 L256.5 460.6 L256.0 460.8 L255.5 461.0 L255.1 461.2 L254.8 461.4 L254.5 461.6 L254.3 461.9 L254.1 462.4 L253.9 462.8 L253.6 463.3 L253.3 464.0 L253.0 464.7 L252.7 465.7 L252.3 466.7 L252.0 467.6 L251.8 468.6 L251.6 469.1 L251.5 469.8 L251.4 470.3 L251.4 470.8 L251.4 471.6 L251.5 472.3 L251.6 473.4 L251.8 474.4 L252.1 475.4 L252.5 476.7 L252.8 477.5 L253.2 478.3 L253.6 478.9 L254.1 479.2 L254.5 479.5 L255.0 479.5 L255.6 479.6 L256.1 479.6 L256.6 479.7 L257.1 479.5 L257.7 479.6 L258.2 479.4 L258.7 479.2 L259.1 479.0 L259.5 478.8 L259.8 478.6 L260.1 478.1 L260.4 477.6 L260.5 477.4 L260.6 476.9 L260.6 476.6 L260.5 476.1 L260.4 475.6 L260.2 475.3 L259.9 474.8 L259.6 474.5 L259.3 474.2 L258.8 473.9 L258.3 473.6 L257.8 473.6 L257.3 473.5 L256.8 473.2 L256.3 473.4 L255.7 473.3 L255.2 473.3 L254.6 473.4 L254.1 473.6 L253.7 473.8 L253.4 474.1 L253.1 474.3 L252.9 474.8 L252.7 475.0 L252.5 475.5 L252.3 475.9 L251.9 476.7 L251.6 477.6 L251.2 478.6 L250.9 479.5 L250.6 480.3 L250.3 481.2 L250.1 482.0 L250.0 482.5 L249.9 483.0 L249.9 483.7 L249.9 484.2 L250.0 485.0 L250.1 486.0 L250.4 487.0 L250.7 488.1 L251.0 489.4 L251.3 490.4 L251.7 491.0 L252.1 491.5 L252.6 491.8 L253.1 492.1 L253.6 492.2 L254.1 492.2 L254.6 492.3 L255.1 492.4 L255.6 492.4 L256.2 492.2 L256.7 492.1 L257.2 491.9 L257.6 491.7 L258.0 491.4 L258.3 491.2 L258.6 490.8 L258.8 490.5 L259.0 490.1 L259.1 489.6 L259.1 489.3 L259.0 488.8 L258.9 488.5 L258.7 488.0 L258.4 487.7 L258.2 487.2 L257.8 486.9 L257.4 486.6 L256.8 486.5 L256.3 486.2 L255.8 486.2 L255.3 486.1 L254.8 486.0 L254.2 486.0 L253.7 486.2 L253.2 486.1 L252.7 486.3 L252.3 486.5 L251.9 486.7 L251.6 487.2 L251.4 487.4 L251.2 487.6 L251.0 488.1 L250.8 488.6 L250.5 489.3 L250.1 490.3 L249.7 491.2 L249.4 492.2 L249.1 493.2 L248.8 493.9 L248.7 494.6 L248.5 495.1 L248.5 495.6 L248.4 496.4 L248.4 496.9 L248.5 497.6 L248.7 498.7 L248.9 499.7 L249.2 501.0 L249.5 502.0 L249.9 503.1 L250.2 503.9 L250.7 504.2 L251.1 504.7 L251.6 504.8 L252.1 504.9 L252.6 504.9 L253.1 505.0 L253.6 505.0 L254.1 505.1 L254.7 504.9 L255.2 505.0 L255.7 504.8 L256.1 504.6 L256.5 504.1 L256.8 503.9 L257.1 503.4 L257.4 503.2 L257.5 502.7 L257.6 502.5 L257.6 502.0 L257.6 501.5 L257.4 501.2 L257.2 500.7 L256.9 500.4 L256.6 500.1 L256.3 499.8 L255.8 499.5 L255.4 499.2 L254.9 498.9 L254.3 498.8 L253.8 498.8 L253.3 498.7 L252.8 498.6 L252.2 498.8 L251.7 499.0 L251.2 499.2 L250.7 499.4 L250.4 499.6 L250.2 499.8 L249.9 500.1 L249.8 500.3 L249.5 500.8 L249.3 501.5 L248.9 502.2 L248.6 502.9 L248.2 503.9 L247.9 504.9 L247.6 505.8 L247.4 506.6 L247.2 507.3 L247.1 507.8 L247.0 508.5 L246.9 509.0 L246.9 509.8 L247.0 510.3 L247.2 511.3 L247.4 512.4 L247.7 513.7 L248.0 514.7 L248.4 515.8 L248.8 516.6 L249.2 517.1 L249.6 517.4 L250.1 517.5 L250.6 517.8 L251.1 517.8 L251.6 517.9 L252.2 517.7 L252.7 517.8 L253.2 517.8 L253.8 517.6 L254.3 517.4 L254.7 517.2 L255.0 517.0 L255.4 516.6 L255.7 516.3 L255.9 515.9 L256.1 515.4 L256.2 515.1 L256.2 514.6 L256.1 514.4 L255.9 513.9 L255.8 513.3 L255.5 513.0 L255.2 512.8 L254.8 512.5 L254.4 512.2 L253.9 511.9 L253.4 511.5 L252.9 511.5 L252.4 511.4 L251.8 511.4 L251.3 511.3 L250.7 511.5 L250.2 511.7 L249.7 511.9 L249.3 512.1 L249.0 512.3 L248.7 512.5 L248.5 512.8 L248.3 513.2 L248.1 513.7 L247.8 514.2 L247.5 514.9 L247.2 515.6 L246.8 516.6 L246.5 517.5 L246.1 518.5 L245.9 519.2 L245.7 520.0 L245.6 520.7 L245.5 521.2 L245.5 521.7 L245.5 522.5 L245.6 523.2 L245.7 524.0 L246.0 525.3 L246.3 526.3 L246.6 527.4 L247.0 528.4 L247.3 529.2 L247.7 529.8 L248.2 530.1 L248.7 530.4 L249.2 530.4 L249.7 530.5 L250.2 530.6 L250.7 530.6 L251.2 530.4 L251.8 530.5 L252.3 530.3 L252.8 530.1 L253.2 529.9 L253.6 529.7 L253.9 529.2 L254.2 529.0 L254.5 528.5 L254.6 528.3 L254.7 527.8 L254.7 527.3 L254.6 527.0 L254.5 526.5 L254.3 526.2 L254.0 525.7 L253.7 525.4 L253.4 525.1 L252.9 524.8 L252.5 524.5 L251.9 524.5 L251.4 524.2 L250.9 524.1 L250.4 524.0 L249.8 524.2 L249.3 524.2 L248.7 524.4 L248.3 524.5 L247.8 524.8 L247.5 525.0 L247.2 525.2 L247.0 525.4 L246.8 525.9 L246.6 526.4 L246.4 526.8 L246.0 527.6 L245.7 528.3 L245.3 529.3 L245.0 530.2 L244.7 531.2 L244.4 532.2 L244.3 532.7 L244.2 533.4 L244.1 533.9 L244.0 534.4 L244.0 535.1 L244.1 535.9 L244.3 536.9 L244.5 538.0 L244.8 539.0 L245.1 540.3 L245.5 541.1 L245.9 541.9 L246.3 542.5 L246.8 542.8 L247.2 543.1 L247.7 543.1 L248.2 543.2 L248.7 543.2 L249.3 543.3 L249.8 543.1 L250.4 543.1 L250.9 543.0 L251.4 542.8 L251.8 542.6 L252.2 542.3 L252.5 542.1 L252.8 541.7 L253.0 541.2 L253.2 540.9 L253.3 540.5 L253.3 540.2 L253.2 539.7 L253.1 539.2 L252.8 538.9 L252.6 538.4 L252.3 538.1 L251.9 537.8 L251.5 537.5 L251.0 537.2 L250.5 537.1 L249.9 537.1 L249.5 536.8 L248.9 537.0 L248.4 536.9 L247.9 536.8 L247.3 537.0 L246.8 537.2 L246.4 537.4 L246.1 537.6 L245.8 537.9 L245.6 538.3 L245.4 538.6 L245.2 539.1 L244.9 539.5 L244.6 540.3 L244.3 541.2 L243.9 542.2 L243.6 543.2 L243.3 543.9 L243.0 544.9 L242.9 545.6 L242.8 546.1 L242.7 546.6 L242.6 547.4 L242.7 547.9 L242.7 548.6 L242.9 549.7 L243.2 550.7 L243.5 551.7 L243.8 553.0 L244.2 554.1 L244.6 554.6 L245.0 555.2 L245.5 555.5 L245.9 555.8 L246.4 555.8 L246.9 555.9 L247.4 555.9 L248.0 556.0 L248.5 556.0 L249.1 555.8 L249.6 555.6 L250.1 555.4 L250.5 555.2 L250.9 555.0 L251.2 554.8 L251.5 554.3 L251.7 554.1 L251.8 553.6 L251.9 553.1 L251.9 552.8 L251.9 552.3 L251.7 552.1 L251.5 551.5 L251.2 551.3 L250.9 550.7 L250.6 550.4 L250.1 550.2 L249.6 550.1 L249.1 549.8 L248.6 549.7 L248.1 549.7 L247.6 549.6 L247.0 549.6 L246.5 549.8 L245.9 549.7 L245.5 549.9 L245.0 550.1 L244.7 550.3 L244.4 550.8 L244.2 551.1 L244.0 551.3 L243.8 551.8 L243.6 552.3 L243.3 553.0 L242.9 554.0 L242.6 554.9 L242.2 555.9 L242.0 556.9 L241.8 557.6 L241.6 558.4 L241.5 558.9 L241.4 559.4 L241.4 560.1 L241.4 560.6 L241.5 561.4 L241.7 562.4 L241.9 563.5 L242.2 564.7 L242.6 565.8 L243.0 566.8 L243.4 567.6 L243.8 567.9 L244.3 568.4 L244.8 568.5 L245.3 568.5 L245.8 568.6 L246.3 568.6 L246.8 568.6 L247.4 568.7 L247.9 568.5 L248.4 568.5 L248.9 568.3 L249.3 568.1 L249.7 567.6 L250.0 567.4 L250.3 566.9 L250.5 566.7 L250.7 566.2 L250.7 566.0 L250.7 565.5 L250.7 565.0 L250.5 564.7 L250.3 564.2 L250.0 563.9 L249.7 563.6 L249.3 563.3 L248.9 563.1 L248.4 562.8 L247.9 562.5 L247.3 562.4 L246.8 562.4 L246.3 562.3 L245.8 562.3 L245.2 562.5 L244.7 562.7 L244.2 562.9 L243.8 563.1 L243.5 563.3 L243.2 563.6 L243.0 563.8 L242.8 564.0 L242.6 564.5 L242.4 565.3 L242.1 566.0 L241.8 566.7 L241.4 567.7 L241.1 568.7 L240.8 569.6 L240.6 570.4 L240.5 571.4 L240.5 572.1 L240.5 572.9 L240.5 573.9 L240.5 574.4 L240.6 574.9"/>
</g>
<g fill="#fff" stroke="#2c2b0d" stroke-width="1.6" stroke-linejoin="miter">
<path d="M349.3 9.8 L632.3 9.8 L632.3 112.8 L349.3 112.8 L338.6 101.0 L338.6 21.4 Z"/><path d="M346.1 199.8 L627.1 199.8 L627.1 307.4 L346.1 307.4 L335.5 295.3 L335.5 211.4 Z"/><path d="M337.6 395.0 L585.2 395.0 L585.2 459.9 L337.6 459.9 L327.0 448.1 L327.0 406.7 Z"/>
</g>
<g fill="none" stroke="#2b2a0c" stroke-width="1.8" stroke-linecap="round" stroke-linejoin="round">
<path d="M345.0 58.0 C339.7 57.7 323.4 55.9 313.3 56.3 C303.2 56.7 294.2 58.3 284.6 60.6 C275.1 62.9 265.6 65.8 256.0 70.0 C246.4 74.2 235.9 80.2 227.3 85.9 C218.7 91.7 210.6 98.8 204.4 104.5 C198.2 110.2 193.7 115.7 190.0 120.3 C186.3 124.9 183.3 130.3 182.0 132.3" stroke-width="1.5"/><path d="M344.0 252.5 C340.0 253.1 327.3 255.1 320.0 256.0 C312.7 256.9 306.2 257.5 300.0 257.8 C293.8 258.1 288.8 258.0 282.9 257.6 C277.0 257.2 271.5 256.6 264.8 255.7 C258.1 254.8 249.4 253.4 242.8 252.1 C236.2 250.8 230.8 249.6 225.4 247.9 C220.0 246.2 216.6 245.1 210.3 241.8 C204.0 238.5 192.7 231.9 187.7 228.3 C182.7 224.7 182.7 223.0 180.2 220.0 C177.7 217.0 175.1 214.1 172.6 210.2 C170.1 206.3 167.1 200.2 165.1 196.6 C163.1 192.9 161.3 189.7 160.6 188.3"/><path d="M342.0 252.8 C336.4 254.1 319.3 257.7 308.4 260.3 C297.5 262.9 287.3 264.8 276.7 268.2 C266.1 271.6 255.6 275.1 245.0 280.9 C234.4 286.7 221.8 296.1 213.3 303.0 C204.9 309.9 199.6 315.6 194.3 322.0 C189.0 328.4 183.8 338.4 181.7 341.7"/><path d="M332.8 426.5 C329.8 426.6 320.5 427.8 314.7 427.2 C308.9 426.6 303.5 425.1 298.0 423.0 C292.5 420.9 286.2 417.8 281.5 414.8 C276.8 411.8 273.7 408.3 269.9 404.8 C266.1 401.3 260.6 395.8 258.7 394.0"/>
<path d="M187.8 111.0L182.0 132.3L201.0 119.4" stroke-width="1.6"/><path d="M164.6 208.7L160.6 188.3L176.8 198.4"/><path d="M186.4 323.6L181.7 341.7L198.1 332.2"/><path d="M262.4 410.3L258.7 394.0L268.5 399.9"/>
</g>
<g fill="#fff" stroke="#2b2a0c" stroke-width="1.7">
<circle cx="348.3" cy="58.1" r="3.6"/><circle cx="345.4" cy="252.2" r="3.6"/><circle cx="336.2" cy="426.1" r="3.6"/>
</g>
<g fill="#e3e5d8"><ellipse cx="393.6" cy="26.2" rx="6.6" ry="7.3"/><ellipse cx="514.0" cy="26.2" rx="6.6" ry="7.3"/><ellipse cx="498.3" cy="60.9" rx="6.6" ry="7.3"/><ellipse cx="585.2" cy="60.9" rx="6.6" ry="7.3"/><ellipse cx="392.4" cy="95.3" rx="6.4" ry="7.3"/><ellipse cx="492.8" cy="95.3" rx="5.7" ry="7.3"/><ellipse cx="372.9" cy="217.4" rx="6.1" ry="7.3"/><rect x="367.0" y="254.0" width="10.5" height="7.5" rx="3"/><rect x="433.5" y="288.7" width="9.4" height="7.5" rx="3"/><ellipse cx="468.5" cy="289.0" rx="6.1" ry="7.3"/><path d="M540.9 281.9H545.9Q552.1 281.9 552.1 289.0Q552.1 296.2 545.9 296.2H540.9Z"/><ellipse cx="562.9" cy="289.0" rx="6.5" ry="7.3"/><path d="M561.2 404.2H566.2Q572.3 404.2 572.3 411.3Q572.3 418.5 566.2 418.5H561.2Z"/></g>
<g>
<text x="368.4" y="34.0" textLength="34.0" lengthAdjust="spacingAndGlyphs">NO</text>
<text x="418.8" y="34.0" textLength="53.7" lengthAdjust="spacingAndGlyphs">CELL</text>
<text x="488.9" y="34.0" textLength="124.2" lengthAdjust="spacingAndGlyphs">CONTENTS</text>
<text x="368.5" y="68.7" textLength="54.1" lengthAdjust="spacingAndGlyphs">JUST</text>
<text x="441.9" y="68.7" textLength="14.9" lengthAdjust="spacingAndGlyphs">A</text>
<text x="473.1" y="68.7" textLength="152.4" lengthAdjust="spacingAndGlyphs">CONTINUOUS</text>
<text x="367.8" y="103.1" textLength="95.8" lengthAdjust="spacingAndGlyphs">COLUMN</text>
<text x="485.0" y="103.1" textLength="27.9" lengthAdjust="spacingAndGlyphs">OF</text>
<text x="530.7" y="103.1" textLength="78.6" lengthAdjust="spacingAndGlyphs">WATER</text>
<text x="364.7" y="225.2" textLength="101.2" lengthAdjust="spacingAndGlyphs">ORIGINAL</text>
<text x="483.4" y="225.2" textLength="52.2" lengthAdjust="spacingAndGlyphs">CELL</text>
<text x="556.9" y="225.2" textLength="57.7" lengthAdjust="spacingAndGlyphs">WALL</text>
<text x="364.1" y="262.1" textLength="115.2" lengthAdjust="spacingAndGlyphs">BETWEEN</text>
<text x="497.3" y="262.1" textLength="66.9" lengthAdjust="spacingAndGlyphs">CELLS</text>
<text x="365.4" y="296.8" textLength="44.6" lengthAdjust="spacingAndGlyphs">HAS</text>
<text x="430.8" y="296.8" textLength="89.6" lengthAdjust="spacingAndGlyphs">BROKEN</text>
<text x="538.1" y="296.8" textLength="70.7" lengthAdjust="spacingAndGlyphs">DOWN</text>
<text x="354.3" y="419.1" textLength="71.7" lengthAdjust="spacingAndGlyphs">WALLS</text>
<text x="445.9" y="419.1" textLength="128.6" lengthAdjust="spacingAndGlyphs">THICKENED</text>
<text x="358.3" y="453.8" textLength="60.0" lengthAdjust="spacingAndGlyphs">WITH</text>
<text x="439.2" y="453.8" textLength="75.8" lengthAdjust="spacingAndGlyphs">LIGNIN</text>
</g>
</svg>
<div class="cap">Xylem cells lose their top and bottom walls to form a continuous tube through which water moves<br>through from the roots to the leaves</div>
</body></html>
